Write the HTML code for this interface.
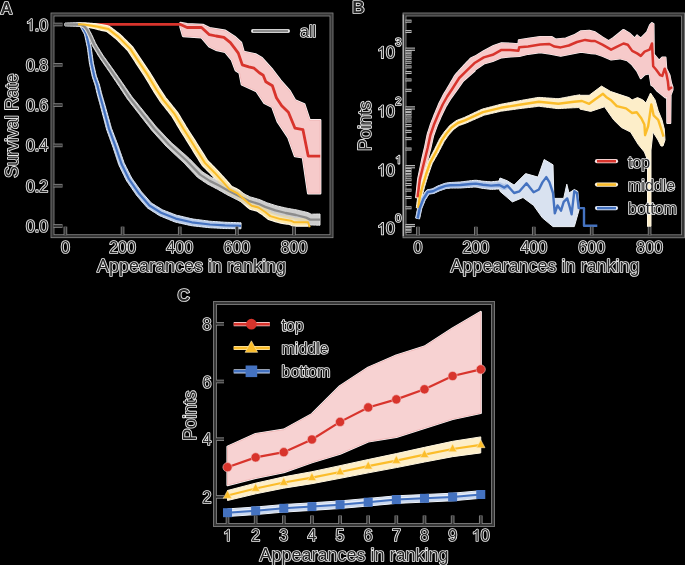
<!DOCTYPE html>
<html><head><meta charset="utf-8"><style>
html,body{margin:0;padding:0;background:#000;width:685px;height:565px;overflow:hidden}
svg{display:block}
</style></head><body>
<svg width="685" height="565" viewBox="0 0 685 565">
<rect width="685" height="565" fill="#000"/>
<polygon points="180.5,22.9 187.1,24.2 202.8,24.9 209.4,28.1 225.2,30.8 234.4,36.7 241,42.6 243.6,51.8 255.4,54.4 261.8,58 272.4,69.9 280.4,80.5 289.7,91.1 295,100.4 304.3,104.4 309.6,120.3 320.2,120.3 320.2,193.2 308.2,193.2 302.9,157.4 295,156.1 288.4,137.5 277.7,121.6 272.4,107 264.5,103 256.5,91.1 241.9,84.5 239.6,72.8 235.7,70.2 231.8,59.7 225.2,51.8 216,49.8 209.4,46.5 201.5,37.3 183.1,36 180.5,26.8" fill="#f6caca" stroke="#fdfafa" stroke-width="2.4" stroke-linejoin="round"/>
<polygon points="180.5,22.9 187.1,24.2 202.8,24.9 209.4,28.1 225.2,30.8 234.4,36.7 241,42.6 243.6,51.8 255.4,54.4 261.8,58 272.4,69.9 280.4,80.5 289.7,91.1 295,100.4 304.3,104.4 309.6,120.3 320.2,120.3 320.2,193.2 308.2,193.2 302.9,157.4 295,156.1 288.4,137.5 277.7,121.6 272.4,107 264.5,103 256.5,91.1 241.9,84.5 239.6,72.8 235.7,70.2 231.8,59.7 225.2,51.8 216,49.8 209.4,46.5 201.5,37.3 183.1,36 180.5,26.8" fill="#f6caca" stroke="#f0b4b4" stroke-width="0.9" stroke-linejoin="round"/>
<polyline points="65,24.4 180.5,24.4 187.1,27.5 201.5,27.5 209.4,34.7 216,36 223.9,37.3 230.4,42.6 234.4,47.8 238.3,53.1 242.3,64.9 248.8,66.9 254.1,68.2 259.3,72.8 263.2,75.2 265.8,81.8 272.4,85.8 276.4,97.7 281.7,105.7 288.4,112.3 295,128.2 302.9,129.6 308.2,156.1 320.2,156.1" fill="none" stroke="#d8342c" stroke-width="2.8" stroke-linejoin="round" stroke-linecap="butt"/>
<polygon points="65,25.7 66.51,25.75 68.01,25.79 69.52,25.84 71.03,25.88 72.54,25.93 74.04,25.97 75.55,26.02 77.06,26.06 78.57,26.11 79.77,26.12 80.13,26.24 80.52,27.16 81.24,28.49 81.95,29.81 82.67,31.14 83.39,32.47 84.08,33.75 84.62,34.86 84.88,36.12 85.19,37.6 85.51,39.07 85.83,40.54 86.14,42.02 86.46,43.49 86.78,44.96 87.09,46.42 87.36,47.82 87.55,49.26 87.75,50.75 87.95,52.25 88.14,53.74 88.34,55.24 88.54,56.73 88.74,58.22 88.94,59.72 89.14,61.21 89.34,62.75 89.61,64.31 89.94,65.83 90.25,67.3 90.57,68.77 90.89,70.25 91.2,71.72 91.52,73.19 91.84,74.67 92.17,76.21 92.61,77.77 93.11,79.25 93.59,80.68 94.06,82.11 94.54,83.54 95,84.92 95.39,86.27 95.71,87.68 96.05,89.15 96.39,90.62 96.73,92.09 97.08,93.58 97.46,95.08 97.86,96.56 98.26,98.01 98.66,99.47 99.06,100.92 99.46,102.37 99.86,103.83 100.25,105.28 100.65,106.73 101.04,108.17 101.42,109.62 101.8,111.08 102.18,112.54 102.56,114 102.94,115.46 103.32,116.92 103.71,118.38 104.09,119.83 104.47,121.29 104.85,122.75 105.23,124.21 105.61,125.67 105.99,127.13 106.39,128.63 106.86,130.18 107.39,131.66 107.9,133.08 108.41,134.5 108.92,135.92 109.43,137.34 109.94,138.76 110.45,140.17 110.97,141.59 111.48,143.01 111.99,144.43 112.5,145.85 112.99,147.23 113.45,148.63 113.92,150.06 114.39,151.49 114.87,152.92 115.34,154.35 115.81,155.79 116.28,157.22 116.75,158.65 117.22,160.08 117.7,161.51 118.17,162.94 118.69,164.48 119.36,166.04 120.05,167.45 120.71,168.81 121.37,170.16 122.03,171.52 122.69,172.87 123.35,174.23 124.01,175.59 124.67,176.94 125.33,178.3 126.03,179.73 126.87,181.23 127.8,182.58 128.66,183.82 129.51,185.07 130.37,186.31 131.22,187.55 132.08,188.79 132.93,190.03 133.79,191.27 134.64,192.51 135.5,193.76 136.41,195.07 137.44,196.39 138.46,197.58 139.44,198.73 140.43,199.87 141.41,201.01 142.39,202.16 143.37,203.3 144.35,204.45 145.34,205.59 146.4,206.83 147.81,208.19 149.36,209.2 150.63,210.01 151.9,210.82 153.17,211.63 154.44,212.44 155.71,213.25 156.98,214.06 158.28,214.89 159.83,215.82 161.46,216.49 162.85,217.06 164.25,217.63 165.64,218.21 167.04,218.78 168.43,219.35 169.83,219.92 171.22,220.49 172.62,221.07 174.19,221.7 175.88,222.19 177.42,222.57 178.89,222.92 180.36,223.25 181.83,223.58 183.3,223.9 184.78,224.23 186.25,224.56 187.72,224.88 189.19,225.21 190.8,225.56 192.46,225.8 194.01,225.97 195.51,226.14 197,226.31 198.5,226.48 200,226.65 201.5,226.82 203,226.99 204.49,227.15 205.99,227.32 207.49,227.49 209.05,227.67 210.65,227.79 212.19,227.87 213.7,227.95 215.2,228.03 216.71,228.11 218.21,228.18 219.72,228.26 221.22,228.34 222.73,228.42 224.27,228.5 225.83,228.55 227.36,228.57 228.87,228.6 230.37,228.62 231.88,228.65 233.39,228.67 234.9,228.7 236.4,228.72 237.91,228.75 239.42,228.77 240.93,228.8 241.07,222.8 239.57,222.75 238.06,222.7 236.55,222.65 235.05,222.6 233.54,222.55 232.03,222.5 230.53,222.45 229.02,222.4 227.51,222.35 226.03,222.3 224.58,222.23 223.11,222.13 221.6,222.03 220.1,221.93 218.6,221.82 217.09,221.72 215.59,221.62 214.08,221.52 212.58,221.41 211.12,221.31 209.71,221.18 208.28,221 206.78,220.8 205.28,220.61 203.79,220.42 202.29,220.22 200.8,220.03 199.3,219.84 197.81,219.64 196.31,219.45 194.82,219.26 193.37,219.07 192.06,218.87 190.72,218.55 189.26,218.2 187.79,217.85 186.32,217.5 184.86,217.15 183.39,216.8 181.92,216.45 180.46,216.11 178.98,215.78 177.59,215.48 176.38,215.17 175.15,214.69 173.74,214.15 172.34,213.61 170.93,213.07 169.52,212.53 168.12,211.99 166.71,211.44 165.3,210.9 163.89,210.36 162.72,209.92 161.68,209.31 160.42,208.55 159.14,207.76 157.85,206.97 156.56,206.19 155.28,205.4 153.99,204.62 152.7,203.83 151.69,203.24 150.96,202.52 150.04,201.49 149.04,200.36 148.05,199.23 147.05,198.1 146.05,196.97 145.05,195.84 144.05,194.71 143.05,193.58 142.09,192.51 141.25,191.46 140.43,190.31 139.56,189.08 138.69,187.85 137.82,186.62 136.95,185.39 136.07,184.16 135.2,182.93 134.33,181.7 133.46,180.47 132.59,179.24 131.79,178.12 131.15,177.01 130.52,175.74 129.84,174.39 129.17,173.04 128.49,171.69 127.82,170.34 127.15,168.99 126.47,167.65 125.8,166.3 125.12,164.95 124.48,163.66 123.95,162.46 123.5,161.14 123.01,159.71 122.52,158.29 122.02,156.86 121.52,155.44 121.03,154.02 120.53,152.59 120.03,151.17 119.53,149.75 119.04,148.33 118.54,146.9 118.03,145.44 117.48,144 116.94,142.59 116.4,141.18 115.86,139.77 115.32,138.37 114.78,136.96 114.25,135.55 113.71,134.14 113.17,132.73 112.63,131.33 112.09,129.92 111.57,128.57 111.15,127.25 110.76,125.84 110.36,124.39 109.95,122.94 109.55,121.48 109.15,120.03 108.74,118.58 108.34,117.13 107.94,115.67 107.54,114.22 107.13,112.77 106.73,111.32 106.33,109.86 105.92,108.41 105.52,106.95 105.1,105.49 104.68,104.03 104.26,102.59 103.84,101.14 103.42,99.69 103,98.24 102.57,96.8 102.15,95.35 101.74,93.92 101.36,92.51 101.01,91.07 100.65,89.6 100.29,88.14 99.93,86.68 99.55,85.16 99.09,83.62 98.57,82.15 98.06,80.73 97.56,79.31 97.06,77.89 96.57,76.51 96.16,75.18 95.84,73.78 95.51,72.31 95.17,70.84 94.84,69.37 94.51,67.9 94.17,66.43 93.84,64.96 93.51,63.53 93.25,62.13 93.05,60.68 92.84,59.19 92.63,57.69 92.42,56.2 92.21,54.71 92,53.21 91.79,51.72 91.58,50.23 91.37,48.74 91.15,47.19 90.83,45.63 90.5,44.14 90.16,42.67 89.83,41.2 89.49,39.73 89.16,38.26 88.82,36.79 88.49,35.32 88.09,33.64 87.3,32.06 86.53,30.71 85.77,29.41 85.02,28.1 84.27,26.8 83.51,25.49 82.44,23.78 80.38,22.88 78.57,22.89 77.06,22.94 75.55,22.98 74.04,23.03 72.54,23.07 71.03,23.12 69.52,23.16 68.01,23.21 66.51,23.25 65,23.3" fill="#b7cae9" stroke="#e6eef9" stroke-width="1" stroke-linejoin="round"/>
<polyline points="65,24.5 81,24.5 86.3,34 89.2,47.1 91.4,63.2 94.3,76.3 97.3,85 99.4,93.8 103.1,106.9 109,128.8 115.5,146.3 121.5,164 129,179.2 139.2,193.8 149.4,205.5 161.1,212.8 175.7,218.6 191.8,222.3 210,224.5 225,225.4 241,225.8" fill="none" stroke="#4472c0" stroke-width="2.2" stroke-linejoin="round" stroke-linecap="butt"/>
<polygon points="77.93,25.7 79.43,25.87 80.93,26.04 82.43,26.21 83.85,26.38 85.25,26.68 86.73,26.99 88.21,27.3 89.68,27.6 91.16,27.91 92.64,28.22 94.12,28.53 95.54,28.83 96.92,29.19 98.35,29.59 99.81,29.97 101.28,30.3 102.75,30.63 104.22,30.95 105.69,31.28 106.73,31.48 107.42,31.93 108.44,32.75 109.62,33.69 110.8,34.63 111.98,35.57 113.16,36.5 114.35,37.44 115.51,38.37 116.54,39.21 117.49,40.17 118.55,41.24 119.61,42.31 120.67,43.39 121.73,44.46 122.79,45.53 123.85,46.6 124.91,47.67 125.97,48.75 127,49.79 127.83,50.66 128.5,51.71 129.33,52.97 130.16,54.23 130.99,55.49 131.82,56.75 132.65,58.01 133.48,59.27 134.3,60.53 135.13,61.79 135.96,63.05 136.79,64.31 137.63,65.57 138.46,66.82 139.29,68.08 140.12,69.34 140.95,70.6 141.78,71.86 142.61,73.12 143.44,74.37 144.26,75.62 145.05,76.82 145.79,78.07 146.56,79.36 147.33,80.66 148.11,81.95 148.88,83.25 149.65,84.54 150.43,85.84 151.2,87.13 151.97,88.42 152.74,89.72 153.54,91.06 154.39,92.38 155.21,93.65 156.03,94.91 156.85,96.18 157.67,97.45 158.49,98.71 159.31,99.98 160.21,101.36 161.22,102.68 162.17,103.88 163.11,105.06 164.05,106.24 164.99,107.42 165.92,108.6 166.86,109.78 167.8,110.96 168.73,112.14 169.67,113.33 170.61,114.51 171.48,115.6 172.2,116.65 172.9,117.84 173.67,119.13 174.43,120.43 175.2,121.73 175.97,123.03 176.73,124.33 177.5,125.63 178.27,126.92 179.03,128.22 179.8,129.53 180.61,130.87 181.43,132.18 182.24,133.45 183.04,134.73 183.85,136 184.65,137.28 185.46,138.55 186.27,139.83 187.07,141.1 187.87,142.37 188.66,143.63 189.44,144.9 190.23,146.18 191.02,147.47 191.81,148.75 192.59,150.04 193.38,151.33 194.17,152.61 194.97,153.91 195.78,155.2 196.58,156.48 197.38,157.76 198.19,159.03 198.99,160.31 199.79,161.58 200.6,162.86 201.5,164.28 202.66,165.77 203.86,167 204.92,168.08 205.98,169.15 207.04,170.23 208.1,171.3 209.15,172.38 210.21,173.45 211.25,174.51 212.24,175.54 213.21,176.61 214.22,177.73 215.23,178.85 216.24,179.97 217.25,181.09 218.26,182.21 219.27,183.33 220.28,184.45 221.26,185.54 222.2,186.63 223.16,187.77 224.13,188.93 225.1,190.08 226.43,191.6 228.27,192.87 229.82,193.66 231.16,194.34 232.51,195.02 233.86,195.7 234.84,196.17 235.62,196.85 236.72,197.81 237.85,198.8 238.99,199.79 240.13,200.78 241.26,201.77 242.39,202.76 243.52,203.76 244.66,204.75 245.79,205.74 246.93,206.74 248.11,207.77 250.01,209.21 252.25,209.87 253.71,210.24 255.17,210.61 256.37,210.91 257.15,211.22 258.08,211.87 259.34,212.7 260.59,213.54 261.84,214.37 262.95,215.11 263.99,215.95 265.16,216.9 266.33,217.85 267.92,219.09 269.96,220.01 271.63,220.52 273.08,220.95 274.52,221.38 275.97,221.81 277.41,222.24 279.01,222.71 280.73,223.08 282.32,223.33 283.81,223.57 285.3,223.8 286.79,224.04 288.27,224.28 289.34,224.43 290.16,224.77 291.74,225.55 294.07,226.12 296.04,226.15 297.55,226.15 299.05,226.16 300.56,226.17 302.07,226.17 303.58,226.18 305.08,226.18 306.59,226.19 308.1,226.19 308.1,218.21 306.59,218.21 305.08,218.22 303.58,218.22 302.07,218.23 300.56,218.23 299.05,218.24 297.55,218.25 296.04,218.25 294.99,218.28 294.47,218.16 293.36,217.58 291.39,216.84 289.48,216.52 287.99,216.3 286.5,216.07 285.01,215.85 283.52,215.62 282.12,215.41 280.9,215.16 279.6,214.79 278.16,214.37 276.71,213.95 275.26,213.53 273.81,213.1 272.59,212.76 271.92,212.5 271.15,211.85 269.98,210.91 268.8,209.96 267.48,208.92 266.08,207.99 264.82,207.16 263.56,206.33 262.3,205.5 260.72,204.48 258.74,203.67 257.02,203.23 255.55,202.87 254.09,202.51 253.4,202.44 252.98,201.99 251.89,201.04 250.75,200.05 249.61,199.07 248.47,198.08 247.34,197.09 246.19,196.1 245.05,195.11 243.91,194.13 242.77,193.14 241.62,192.16 240.45,191.14 238.91,189.91 237.19,189.03 235.84,188.36 234.49,187.69 233.14,187.02 231.99,186.46 231.37,186.08 230.75,185.3 229.78,184.15 228.8,183 227.81,181.84 226.79,180.65 225.74,179.5 224.72,178.39 223.71,177.27 222.69,176.16 221.68,175.05 220.66,173.93 219.65,172.82 218.63,171.7 217.58,170.55 216.47,169.41 215.39,168.32 214.33,167.25 213.27,166.18 212.2,165.11 211.14,164.04 210.08,162.97 209.01,161.91 208.1,160.99 207.42,160.12 206.7,158.99 205.89,157.72 205.09,156.45 204.28,155.18 203.47,153.9 202.66,152.63 201.85,151.36 201.04,150.11 200.25,148.84 199.46,147.57 198.66,146.29 197.86,145.01 197.06,143.73 196.26,142.45 195.46,141.17 194.65,139.88 193.83,138.59 193.01,137.32 192.19,136.05 191.37,134.78 190.56,133.51 189.74,132.25 188.93,130.98 188.11,129.71 187.29,128.44 186.5,127.21 185.74,125.97 184.97,124.68 184.19,123.39 183.42,122.1 182.64,120.81 181.86,119.52 181.09,118.22 180.31,116.93 179.53,115.64 178.75,114.35 177.91,112.95 176.91,111.53 175.89,110.27 174.94,109.1 173.99,107.93 173.05,106.76 172.1,105.58 171.15,104.41 170.2,103.24 169.25,102.07 168.3,100.9 167.35,99.73 166.42,98.57 165.58,97.51 164.83,96.37 164,95.11 163.17,93.85 162.34,92.6 161.51,91.34 160.68,90.08 159.85,88.83 159.06,87.61 158.3,86.37 157.52,85.08 156.73,83.79 155.95,82.51 155.17,81.22 154.38,79.93 153.6,78.64 152.82,77.35 152.03,76.07 151.25,74.78 150.43,73.44 149.56,72.12 148.71,70.86 147.87,69.61 147.03,68.36 146.19,67.11 145.35,65.86 144.5,64.6 143.66,63.35 142.82,62.1 141.98,60.85 141.14,59.6 140.3,58.35 139.46,57.1 138.62,55.85 137.78,54.6 136.94,53.34 136.1,52.09 135.26,50.84 134.42,49.59 133.58,48.33 132.59,46.87 131.35,45.56 130.25,44.47 129.17,43.41 128.1,42.35 127.03,41.29 125.96,40.23 124.89,39.17 123.81,38.11 122.74,37.05 121.67,35.99 120.48,34.82 119.17,33.77 117.96,32.83 116.77,31.91 115.58,30.99 114.38,30.06 113.19,29.14 112,28.22 110.66,27.18 108.8,26.14 106.88,25.7 105.41,25.4 103.93,25.1 102.45,24.79 100.98,24.49 99.49,24.25 97.96,24.02 96.38,23.81 94.82,23.68 93.31,23.56 91.81,23.44 90.3,23.32 88.79,23.2 87.29,23.08 85.78,22.96 84.2,22.83 82.6,22.84 81.09,22.86 79.58,22.88 78.07,22.9" fill="#fde7a6" stroke="#fff8e8" stroke-width="1.2" stroke-linejoin="round"/>
<polygon points="65,25.8 66.51,25.84 68.02,25.89 69.53,25.93 71.05,25.98 72.56,26.02 74.07,26.07 75.58,26.11 77.09,26.16 78.6,26.2 79.8,26.22 80.79,26.67 82.07,27.33 83.15,27.85 83.87,28.66 84.73,29.76 85.52,30.81 86.11,32.02 86.79,33.37 87.46,34.72 88.14,36.07 88.78,37.38 89.36,38.72 89.96,40.11 90.55,41.5 91.15,42.88 91.76,44.3 92.47,45.78 93.29,47.17 94.06,48.47 94.83,49.77 95.61,51.06 96.38,52.36 97.15,53.66 97.92,54.96 98.71,56.29 99.56,57.62 100.44,58.9 101.29,60.14 102.15,61.39 103,62.64 103.86,63.88 104.71,65.13 105.57,66.38 106.42,67.62 107.28,68.87 108.13,70.12 108.99,71.36 109.83,72.6 110.67,73.85 111.52,75.1 112.36,76.36 113.21,77.61 114.05,78.87 114.9,80.12 115.74,81.37 116.59,82.63 117.43,83.88 118.27,85.13 119.1,86.37 119.93,87.63 120.76,88.9 121.59,90.16 122.42,91.42 123.25,92.69 124.08,93.95 124.91,95.21 125.74,96.48 126.57,97.75 127.47,99.08 128.45,100.35 129.38,101.54 130.3,102.74 131.23,103.93 132.16,105.13 133.08,106.32 134.01,107.52 134.94,108.71 135.86,109.91 136.79,111.1 137.72,112.3 138.64,113.49 139.57,114.68 140.5,115.88 141.43,117.08 142.36,118.27 143.29,119.46 144.22,120.65 145.15,121.84 146.08,123.04 147.01,124.23 147.94,125.42 148.86,126.61 149.79,127.81 150.72,129 151.69,130.25 152.76,131.48 153.8,132.63 154.81,133.75 155.83,134.87 156.85,135.98 157.86,137.1 158.88,138.22 159.9,139.34 160.91,140.46 161.93,141.58 162.95,142.7 163.96,143.82 164.98,144.94 166.04,146.1 167.19,147.27 168.35,148.35 169.45,149.38 170.56,150.41 171.66,151.44 172.77,152.47 173.87,153.5 174.98,154.53 176.09,155.56 177.19,156.59 178.3,157.63 179.4,158.66 180.51,159.69 181.61,160.72 182.72,161.75 183.76,162.72 184.74,163.73 185.75,164.81 186.79,165.91 187.83,167.01 188.86,168.11 189.9,169.21 190.94,170.31 191.97,171.41 193.01,172.51 194.05,173.61 195.08,174.71 196.12,175.81 197.39,177.14 198.94,178.29 200.26,179.18 201.52,180.02 202.77,180.86 204.03,181.7 205.29,182.54 206.57,183.4 208.02,184.33 209.52,185.12 210.87,185.81 212.21,186.51 213.55,187.21 214.89,187.9 216.23,188.6 217.5,189.26 218.74,189.96 220.05,190.71 221.36,191.45 222.68,192.2 223.99,192.95 225.3,193.69 226.67,194.47 228.09,195.22 229.48,195.93 230.83,196.61 232.17,197.29 233.52,197.97 234.87,198.66 236.22,199.34 237.56,200.02 238.9,200.7 240.25,201.39 241.59,202.08 242.94,202.77 244.28,203.46 245.68,204.17 247.38,204.97 249.12,205.52 250.57,205.97 252.01,206.41 253.46,206.86 254.9,207.31 256.22,207.71 257.34,208.14 258.56,208.72 259.92,209.37 261.29,210.02 262.75,210.72 264.35,211.38 265.87,211.94 267.29,212.46 268.71,212.97 270.13,213.49 271.55,214.01 273.04,214.55 274.66,215.08 276.24,215.51 277.7,215.91 279.16,216.31 280.62,216.7 282.08,217.1 283.58,217.51 285.17,217.91 286.74,218.25 288.21,218.57 289.69,218.89 291.17,219.21 292.65,219.53 294.06,219.84 295.39,220.16 296.77,220.55 298.23,220.95 299.69,221.35 301.14,221.75 302.6,222.15 303.8,222.48 304.69,222.84 305.79,223.41 307.67,224.33 310.3,224.98 312.44,225.05 313.95,225.08 315.47,225.11 316.98,225.14 318.49,225.17 320,225.2 320,214 318.49,214.03 316.98,214.06 315.47,214.09 313.95,214.12 312.44,214.15 311.56,214.22 311.32,214.19 310.49,213.77 308.87,213.02 306.94,212.34 305.21,211.93 303.74,211.58 302.26,211.24 300.79,210.89 299.32,210.55 297.77,210.18 296.15,209.85 294.6,209.58 293.11,209.31 291.62,209.05 290.13,208.79 288.64,208.53 287.24,208.28 285.89,208 284.46,207.67 282.99,207.33 281.51,206.99 280.04,206.64 278.57,206.3 277.21,205.99 275.95,205.63 274.58,205.19 273.14,204.73 271.7,204.26 270.26,203.8 268.82,203.34 267.49,202.91 266.28,202.46 264.99,201.9 263.6,201.3 262.22,200.7 260.68,200.02 258.98,199.41 257.4,198.95 255.95,198.53 254.49,198.11 253.04,197.69 251.59,197.27 250.44,196.95 249.41,196.47 248.1,195.83 246.74,195.17 245.38,194.5 244.02,193.84 242.66,193.18 241.3,192.51 239.93,191.85 238.57,191.19 237.21,190.53 235.85,189.87 234.49,189.21 233.13,188.55 231.8,187.92 230.55,187.27 229.27,186.58 227.94,185.85 226.61,185.13 225.29,184.4 223.96,183.68 222.62,182.95 221.21,182.2 219.78,181.51 218.42,180.85 217.05,180.2 215.69,179.54 214.33,178.88 212.97,178.23 211.77,177.66 210.66,176.99 209.41,176.2 208.13,175.39 206.85,174.59 205.57,173.78 204.29,172.98 203.08,172.22 202.17,171.61 201.35,170.76 200.29,169.69 199.23,168.61 198.16,167.54 197.1,166.46 196.04,165.39 194.98,164.31 193.92,163.24 192.85,162.16 191.79,161.09 190.73,160.01 189.65,158.91 188.49,157.78 187.29,156.72 186.16,155.71 185.03,154.71 183.9,153.71 182.77,152.71 181.64,151.7 180.51,150.7 179.37,149.7 178.24,148.7 177.11,147.69 175.98,146.69 174.85,145.69 173.72,144.69 172.59,143.68 171.5,142.73 170.51,141.77 169.51,140.72 168.47,139.62 167.43,138.53 166.38,137.43 165.34,136.34 164.3,135.25 163.26,134.15 162.22,133.06 161.17,131.96 160.13,130.87 159.09,129.77 158.05,128.68 157.03,127.61 156.09,126.57 155.18,125.46 154.23,124.28 153.28,123.11 152.32,121.93 151.37,120.76 150.42,119.59 149.47,118.41 148.52,117.24 147.57,116.06 146.62,114.89 145.67,113.71 144.72,112.54 143.77,111.36 142.82,110.19 141.87,109.01 140.93,107.83 139.98,106.65 139.03,105.48 138.08,104.3 137.13,103.12 136.19,101.94 135.24,100.77 134.29,99.59 133.34,98.41 132.39,97.24 131.5,96.13 130.7,94.97 129.85,93.73 129,92.48 128.15,91.23 127.3,89.98 126.45,88.73 125.6,87.48 124.74,86.23 123.89,84.98 123.04,83.73 122.18,82.47 121.31,81.22 120.44,79.98 119.57,78.74 118.71,77.5 117.84,76.26 116.98,75.02 116.11,73.79 115.25,72.55 114.38,71.31 113.51,70.06 112.64,68.82 111.76,67.58 110.88,66.35 110.01,65.12 109.13,63.89 108.25,62.66 107.38,61.42 106.5,60.19 105.63,58.96 104.75,57.73 103.87,56.5 103.02,55.3 102.23,54.09 101.45,52.83 100.66,51.54 99.86,50.25 99.07,48.97 98.28,47.68 97.49,46.39 96.69,45.11 95.95,43.9 95.35,42.66 94.75,41.31 94.13,39.93 93.52,38.55 92.9,37.17 92.27,35.74 91.55,34.34 90.86,33 90.17,31.65 89.47,30.31 88.7,28.82 87.67,27.47 86.64,26.21 85.3,24.88 83.66,24.07 82.22,23.4 80.43,22.78 78.6,22.8 77.09,22.84 75.58,22.89 74.07,22.93 72.56,22.98 71.05,23.02 69.53,23.07 68.02,23.11 66.51,23.16 65,23.2" fill="#cdcdcd" stroke="#e4e4e4" stroke-width="1" stroke-linejoin="round"/>
<clipPath id="gclip"><polygon points="65,25.8 66.51,25.84 68.02,25.89 69.53,25.93 71.05,25.98 72.56,26.02 74.07,26.07 75.58,26.11 77.09,26.16 78.6,26.2 79.8,26.22 80.79,26.67 82.07,27.33 83.15,27.85 83.87,28.66 84.73,29.76 85.52,30.81 86.11,32.02 86.79,33.37 87.46,34.72 88.14,36.07 88.78,37.38 89.36,38.72 89.96,40.11 90.55,41.5 91.15,42.88 91.76,44.3 92.47,45.78 93.29,47.17 94.06,48.47 94.83,49.77 95.61,51.06 96.38,52.36 97.15,53.66 97.92,54.96 98.71,56.29 99.56,57.62 100.44,58.9 101.29,60.14 102.15,61.39 103,62.64 103.86,63.88 104.71,65.13 105.57,66.38 106.42,67.62 107.28,68.87 108.13,70.12 108.99,71.36 109.83,72.6 110.67,73.85 111.52,75.1 112.36,76.36 113.21,77.61 114.05,78.87 114.9,80.12 115.74,81.37 116.59,82.63 117.43,83.88 118.27,85.13 119.1,86.37 119.93,87.63 120.76,88.9 121.59,90.16 122.42,91.42 123.25,92.69 124.08,93.95 124.91,95.21 125.74,96.48 126.57,97.75 127.47,99.08 128.45,100.35 129.38,101.54 130.3,102.74 131.23,103.93 132.16,105.13 133.08,106.32 134.01,107.52 134.94,108.71 135.86,109.91 136.79,111.1 137.72,112.3 138.64,113.49 139.57,114.68 140.5,115.88 141.43,117.08 142.36,118.27 143.29,119.46 144.22,120.65 145.15,121.84 146.08,123.04 147.01,124.23 147.94,125.42 148.86,126.61 149.79,127.81 150.72,129 151.69,130.25 152.76,131.48 153.8,132.63 154.81,133.75 155.83,134.87 156.85,135.98 157.86,137.1 158.88,138.22 159.9,139.34 160.91,140.46 161.93,141.58 162.95,142.7 163.96,143.82 164.98,144.94 166.04,146.1 167.19,147.27 168.35,148.35 169.45,149.38 170.56,150.41 171.66,151.44 172.77,152.47 173.87,153.5 174.98,154.53 176.09,155.56 177.19,156.59 178.3,157.63 179.4,158.66 180.51,159.69 181.61,160.72 182.72,161.75 183.76,162.72 184.74,163.73 185.75,164.81 186.79,165.91 187.83,167.01 188.86,168.11 189.9,169.21 190.94,170.31 191.97,171.41 193.01,172.51 194.05,173.61 195.08,174.71 196.12,175.81 197.39,177.14 198.94,178.29 200.26,179.18 201.52,180.02 202.77,180.86 204.03,181.7 205.29,182.54 206.57,183.4 208.02,184.33 209.52,185.12 210.87,185.81 212.21,186.51 213.55,187.21 214.89,187.9 216.23,188.6 217.5,189.26 218.74,189.96 220.05,190.71 221.36,191.45 222.68,192.2 223.99,192.95 225.3,193.69 226.67,194.47 228.09,195.22 229.48,195.93 230.83,196.61 232.17,197.29 233.52,197.97 234.87,198.66 236.22,199.34 237.56,200.02 238.9,200.7 240.25,201.39 241.59,202.08 242.94,202.77 244.28,203.46 245.68,204.17 247.38,204.97 249.12,205.52 250.57,205.97 252.01,206.41 253.46,206.86 254.9,207.31 256.22,207.71 257.34,208.14 258.56,208.72 259.92,209.37 261.29,210.02 262.75,210.72 264.35,211.38 265.87,211.94 267.29,212.46 268.71,212.97 270.13,213.49 271.55,214.01 273.04,214.55 274.66,215.08 276.24,215.51 277.7,215.91 279.16,216.31 280.62,216.7 282.08,217.1 283.58,217.51 285.17,217.91 286.74,218.25 288.21,218.57 289.69,218.89 291.17,219.21 292.65,219.53 294.06,219.84 295.39,220.16 296.77,220.55 298.23,220.95 299.69,221.35 301.14,221.75 302.6,222.15 303.8,222.48 304.69,222.84 305.79,223.41 307.67,224.33 310.3,224.98 312.44,225.05 313.95,225.08 315.47,225.11 316.98,225.14 318.49,225.17 320,225.2 320,214 318.49,214.03 316.98,214.06 315.47,214.09 313.95,214.12 312.44,214.15 311.56,214.22 311.32,214.19 310.49,213.77 308.87,213.02 306.94,212.34 305.21,211.93 303.74,211.58 302.26,211.24 300.79,210.89 299.32,210.55 297.77,210.18 296.15,209.85 294.6,209.58 293.11,209.31 291.62,209.05 290.13,208.79 288.64,208.53 287.24,208.28 285.89,208 284.46,207.67 282.99,207.33 281.51,206.99 280.04,206.64 278.57,206.3 277.21,205.99 275.95,205.63 274.58,205.19 273.14,204.73 271.7,204.26 270.26,203.8 268.82,203.34 267.49,202.91 266.28,202.46 264.99,201.9 263.6,201.3 262.22,200.7 260.68,200.02 258.98,199.41 257.4,198.95 255.95,198.53 254.49,198.11 253.04,197.69 251.59,197.27 250.44,196.95 249.41,196.47 248.1,195.83 246.74,195.17 245.38,194.5 244.02,193.84 242.66,193.18 241.3,192.51 239.93,191.85 238.57,191.19 237.21,190.53 235.85,189.87 234.49,189.21 233.13,188.55 231.8,187.92 230.55,187.27 229.27,186.58 227.94,185.85 226.61,185.13 225.29,184.4 223.96,183.68 222.62,182.95 221.21,182.2 219.78,181.51 218.42,180.85 217.05,180.2 215.69,179.54 214.33,178.88 212.97,178.23 211.77,177.66 210.66,176.99 209.41,176.2 208.13,175.39 206.85,174.59 205.57,173.78 204.29,172.98 203.08,172.22 202.17,171.61 201.35,170.76 200.29,169.69 199.23,168.61 198.16,167.54 197.1,166.46 196.04,165.39 194.98,164.31 193.92,163.24 192.85,162.16 191.79,161.09 190.73,160.01 189.65,158.91 188.49,157.78 187.29,156.72 186.16,155.71 185.03,154.71 183.9,153.71 182.77,152.71 181.64,151.7 180.51,150.7 179.37,149.7 178.24,148.7 177.11,147.69 175.98,146.69 174.85,145.69 173.72,144.69 172.59,143.68 171.5,142.73 170.51,141.77 169.51,140.72 168.47,139.62 167.43,138.53 166.38,137.43 165.34,136.34 164.3,135.25 163.26,134.15 162.22,133.06 161.17,131.96 160.13,130.87 159.09,129.77 158.05,128.68 157.03,127.61 156.09,126.57 155.18,125.46 154.23,124.28 153.28,123.11 152.32,121.93 151.37,120.76 150.42,119.59 149.47,118.41 148.52,117.24 147.57,116.06 146.62,114.89 145.67,113.71 144.72,112.54 143.77,111.36 142.82,110.19 141.87,109.01 140.93,107.83 139.98,106.65 139.03,105.48 138.08,104.3 137.13,103.12 136.19,101.94 135.24,100.77 134.29,99.59 133.34,98.41 132.39,97.24 131.5,96.13 130.7,94.97 129.85,93.73 129,92.48 128.15,91.23 127.3,89.98 126.45,88.73 125.6,87.48 124.74,86.23 123.89,84.98 123.04,83.73 122.18,82.47 121.31,81.22 120.44,79.98 119.57,78.74 118.71,77.5 117.84,76.26 116.98,75.02 116.11,73.79 115.25,72.55 114.38,71.31 113.51,70.06 112.64,68.82 111.76,67.58 110.88,66.35 110.01,65.12 109.13,63.89 108.25,62.66 107.38,61.42 106.5,60.19 105.63,58.96 104.75,57.73 103.87,56.5 103.02,55.3 102.23,54.09 101.45,52.83 100.66,51.54 99.86,50.25 99.07,48.97 98.28,47.68 97.49,46.39 96.69,45.11 95.95,43.9 95.35,42.66 94.75,41.31 94.13,39.93 93.52,38.55 92.9,37.17 92.27,35.74 91.55,34.34 90.86,33 90.17,31.65 89.47,30.31 88.7,28.82 87.67,27.47 86.64,26.21 85.3,24.88 83.66,24.07 82.22,23.4 80.43,22.78 78.6,22.8 77.09,22.84 75.58,22.89 74.07,22.93 72.56,22.98 71.05,23.02 69.53,23.07 68.02,23.11 66.51,23.16 65,23.2"/></clipPath>
<polygon points="77.93,25.7 79.43,25.87 80.93,26.04 82.43,26.21 83.85,26.38 85.25,26.68 86.73,26.99 88.21,27.3 89.68,27.6 91.16,27.91 92.64,28.22 94.12,28.53 95.54,28.83 96.92,29.19 98.35,29.59 99.81,29.97 101.28,30.3 102.75,30.63 104.22,30.95 105.69,31.28 106.73,31.48 107.42,31.93 108.44,32.75 109.62,33.69 110.8,34.63 111.98,35.57 113.16,36.5 114.35,37.44 115.51,38.37 116.54,39.21 117.49,40.17 118.55,41.24 119.61,42.31 120.67,43.39 121.73,44.46 122.79,45.53 123.85,46.6 124.91,47.67 125.97,48.75 127,49.79 127.83,50.66 128.5,51.71 129.33,52.97 130.16,54.23 130.99,55.49 131.82,56.75 132.65,58.01 133.48,59.27 134.3,60.53 135.13,61.79 135.96,63.05 136.79,64.31 137.63,65.57 138.46,66.82 139.29,68.08 140.12,69.34 140.95,70.6 141.78,71.86 142.61,73.12 143.44,74.37 144.26,75.62 145.05,76.82 145.79,78.07 146.56,79.36 147.33,80.66 148.11,81.95 148.88,83.25 149.65,84.54 150.43,85.84 151.2,87.13 151.97,88.42 152.74,89.72 153.54,91.06 154.39,92.38 155.21,93.65 156.03,94.91 156.85,96.18 157.67,97.45 158.49,98.71 159.31,99.98 160.21,101.36 161.22,102.68 162.17,103.88 163.11,105.06 164.05,106.24 164.99,107.42 165.92,108.6 166.86,109.78 167.8,110.96 168.73,112.14 169.67,113.33 170.61,114.51 171.48,115.6 172.2,116.65 172.9,117.84 173.67,119.13 174.43,120.43 175.2,121.73 175.97,123.03 176.73,124.33 177.5,125.63 178.27,126.92 179.03,128.22 179.8,129.53 180.61,130.87 181.43,132.18 182.24,133.45 183.04,134.73 183.85,136 184.65,137.28 185.46,138.55 186.27,139.83 187.07,141.1 187.87,142.37 188.66,143.63 189.44,144.9 190.23,146.18 191.02,147.47 191.81,148.75 192.59,150.04 193.38,151.33 194.17,152.61 194.97,153.91 195.78,155.2 196.58,156.48 197.38,157.76 198.19,159.03 198.99,160.31 199.79,161.58 200.6,162.86 201.5,164.28 202.66,165.77 203.86,167 204.92,168.08 205.98,169.15 207.04,170.23 208.1,171.3 209.15,172.38 210.21,173.45 211.25,174.51 212.24,175.54 213.21,176.61 214.22,177.73 215.23,178.85 216.24,179.97 217.25,181.09 218.26,182.21 219.27,183.33 220.28,184.45 221.26,185.54 222.2,186.63 223.16,187.77 224.13,188.93 225.1,190.08 226.43,191.6 228.27,192.87 229.82,193.66 231.16,194.34 232.51,195.02 233.86,195.7 234.84,196.17 235.62,196.85 236.72,197.81 237.85,198.8 238.99,199.79 240.13,200.78 241.26,201.77 242.39,202.76 243.52,203.76 244.66,204.75 245.79,205.74 246.93,206.74 248.11,207.77 250.01,209.21 252.25,209.87 253.71,210.24 255.17,210.61 256.37,210.91 257.15,211.22 258.08,211.87 259.34,212.7 260.59,213.54 261.84,214.37 262.95,215.11 263.99,215.95 265.16,216.9 266.33,217.85 267.92,219.09 269.96,220.01 271.63,220.52 273.08,220.95 274.52,221.38 275.97,221.81 277.41,222.24 279.01,222.71 280.73,223.08 282.32,223.33 283.81,223.57 285.3,223.8 286.79,224.04 288.27,224.28 289.34,224.43 290.16,224.77 291.74,225.55 294.07,226.12 296.04,226.15 297.55,226.15 299.05,226.16 300.56,226.17 302.07,226.17 303.58,226.18 305.08,226.18 306.59,226.19 308.1,226.19 308.1,218.21 306.59,218.21 305.08,218.22 303.58,218.22 302.07,218.23 300.56,218.23 299.05,218.24 297.55,218.25 296.04,218.25 294.99,218.28 294.47,218.16 293.36,217.58 291.39,216.84 289.48,216.52 287.99,216.3 286.5,216.07 285.01,215.85 283.52,215.62 282.12,215.41 280.9,215.16 279.6,214.79 278.16,214.37 276.71,213.95 275.26,213.53 273.81,213.1 272.59,212.76 271.92,212.5 271.15,211.85 269.98,210.91 268.8,209.96 267.48,208.92 266.08,207.99 264.82,207.16 263.56,206.33 262.3,205.5 260.72,204.48 258.74,203.67 257.02,203.23 255.55,202.87 254.09,202.51 253.4,202.44 252.98,201.99 251.89,201.04 250.75,200.05 249.61,199.07 248.47,198.08 247.34,197.09 246.19,196.1 245.05,195.11 243.91,194.13 242.77,193.14 241.62,192.16 240.45,191.14 238.91,189.91 237.19,189.03 235.84,188.36 234.49,187.69 233.14,187.02 231.99,186.46 231.37,186.08 230.75,185.3 229.78,184.15 228.8,183 227.81,181.84 226.79,180.65 225.74,179.5 224.72,178.39 223.71,177.27 222.69,176.16 221.68,175.05 220.66,173.93 219.65,172.82 218.63,171.7 217.58,170.55 216.47,169.41 215.39,168.32 214.33,167.25 213.27,166.18 212.2,165.11 211.14,164.04 210.08,162.97 209.01,161.91 208.1,160.99 207.42,160.12 206.7,158.99 205.89,157.72 205.09,156.45 204.28,155.18 203.47,153.9 202.66,152.63 201.85,151.36 201.04,150.11 200.25,148.84 199.46,147.57 198.66,146.29 197.86,145.01 197.06,143.73 196.26,142.45 195.46,141.17 194.65,139.88 193.83,138.59 193.01,137.32 192.19,136.05 191.37,134.78 190.56,133.51 189.74,132.25 188.93,130.98 188.11,129.71 187.29,128.44 186.5,127.21 185.74,125.97 184.97,124.68 184.19,123.39 183.42,122.1 182.64,120.81 181.86,119.52 181.09,118.22 180.31,116.93 179.53,115.64 178.75,114.35 177.91,112.95 176.91,111.53 175.89,110.27 174.94,109.1 173.99,107.93 173.05,106.76 172.1,105.58 171.15,104.41 170.2,103.24 169.25,102.07 168.3,100.9 167.35,99.73 166.42,98.57 165.58,97.51 164.83,96.37 164,95.11 163.17,93.85 162.34,92.6 161.51,91.34 160.68,90.08 159.85,88.83 159.06,87.61 158.3,86.37 157.52,85.08 156.73,83.79 155.95,82.51 155.17,81.22 154.38,79.93 153.6,78.64 152.82,77.35 152.03,76.07 151.25,74.78 150.43,73.44 149.56,72.12 148.71,70.86 147.87,69.61 147.03,68.36 146.19,67.11 145.35,65.86 144.5,64.6 143.66,63.35 142.82,62.1 141.98,60.85 141.14,59.6 140.3,58.35 139.46,57.1 138.62,55.85 137.78,54.6 136.94,53.34 136.1,52.09 135.26,50.84 134.42,49.59 133.58,48.33 132.59,46.87 131.35,45.56 130.25,44.47 129.17,43.41 128.1,42.35 127.03,41.29 125.96,40.23 124.89,39.17 123.81,38.11 122.74,37.05 121.67,35.99 120.48,34.82 119.17,33.77 117.96,32.83 116.77,31.91 115.58,30.99 114.38,30.06 113.19,29.14 112,28.22 110.66,27.18 108.8,26.14 106.88,25.7 105.41,25.4 103.93,25.1 102.45,24.79 100.98,24.49 99.49,24.25 97.96,24.02 96.38,23.81 94.82,23.68 93.31,23.56 91.81,23.44 90.3,23.32 88.79,23.2 87.29,23.08 85.78,22.96 84.2,22.83 82.6,22.84 81.09,22.86 79.58,22.88 78.07,22.9" fill="#e8d8a8" opacity="0.8" clip-path="url(#gclip)"/>
<polyline points="65,24.5 80.4,24.5 84.5,26.5 87,29.6 90.5,36.5 94,44.5 100.9,55.9 111.1,70.5 120.5,84.2 129.4,97.5 142.6,114.2 154.2,128.8 168.8,144.5 186.4,160.5 200,174.6 209.7,180.9 219.5,185.8 229.2,191.2 238.9,196 248.7,200.9 258.4,203.8 265.2,206.9 275.4,210.4 285.7,213 295.9,215 306.1,217.6 310.2,219.6 320,219.6" fill="none" stroke="#8c8c8c" stroke-width="2.3" stroke-linejoin="round" stroke-linecap="butt"/>
<polyline points="78,24.3 84,24.6 96.5,26.4 108.2,28.9 118.4,36.9 130.1,48.6 138.8,61.7 147.6,74.9 156.4,89.5 163,99.6 174.7,114.2 183.4,128.8 191.5,141.5 198,152 204.9,162.9 214.6,172.7 224.3,183.4 229.2,189.2 237,193.1 243.8,199 251.6,205.8 258.4,207.5 265.2,212 270.3,216.1 280.5,219.1 290.8,220.7 293.8,222.2 308.1,222.2 309.7,227.3" fill="none" stroke="#fbbd2a" stroke-width="2" stroke-linejoin="round" stroke-linecap="butt"/>
<rect x="52.5" y="14.5" width="279" height="221.7" fill="none" stroke="#8c8c8c" stroke-width="3.8"/>
<rect x="52.5" y="14.5" width="279" height="221.7" fill="none" stroke="#363636" stroke-width="2.3"/>
<line x1="53.5" y1="226" x2="62.5" y2="226" stroke="#8c8c8c" stroke-width="3.6" stroke-linecap="butt"/>
<line x1="53.5" y1="226" x2="62.5" y2="226" stroke="#363636" stroke-width="2"/>
<line x1="53.5" y1="185.7" x2="62.5" y2="185.7" stroke="#8c8c8c" stroke-width="3.6" stroke-linecap="butt"/>
<line x1="53.5" y1="185.7" x2="62.5" y2="185.7" stroke="#363636" stroke-width="2"/>
<line x1="53.5" y1="145.4" x2="62.5" y2="145.4" stroke="#8c8c8c" stroke-width="3.6" stroke-linecap="butt"/>
<line x1="53.5" y1="145.4" x2="62.5" y2="145.4" stroke="#363636" stroke-width="2"/>
<line x1="53.5" y1="105.1" x2="62.5" y2="105.1" stroke="#8c8c8c" stroke-width="3.6" stroke-linecap="butt"/>
<line x1="53.5" y1="105.1" x2="62.5" y2="105.1" stroke="#363636" stroke-width="2"/>
<line x1="53.5" y1="64.8" x2="62.5" y2="64.8" stroke="#8c8c8c" stroke-width="3.6" stroke-linecap="butt"/>
<line x1="53.5" y1="64.8" x2="62.5" y2="64.8" stroke="#363636" stroke-width="2"/>
<line x1="53.5" y1="24.5" x2="62.5" y2="24.5" stroke="#8c8c8c" stroke-width="3.6" stroke-linecap="butt"/>
<line x1="53.5" y1="24.5" x2="62.5" y2="24.5" stroke="#363636" stroke-width="2"/>
<line x1="65.4" y1="235.2" x2="65.4" y2="226.7" stroke="#8c8c8c" stroke-width="3.6" stroke-linecap="butt"/>
<line x1="65.4" y1="235.2" x2="65.4" y2="226.7" stroke="#363636" stroke-width="2"/>
<line x1="122.56" y1="235.2" x2="122.56" y2="226.7" stroke="#8c8c8c" stroke-width="3.6" stroke-linecap="butt"/>
<line x1="122.56" y1="235.2" x2="122.56" y2="226.7" stroke="#363636" stroke-width="2"/>
<line x1="179.72" y1="235.2" x2="179.72" y2="226.7" stroke="#8c8c8c" stroke-width="3.6" stroke-linecap="butt"/>
<line x1="179.72" y1="235.2" x2="179.72" y2="226.7" stroke="#363636" stroke-width="2"/>
<line x1="236.88" y1="235.2" x2="236.88" y2="226.7" stroke="#8c8c8c" stroke-width="3.6" stroke-linecap="butt"/>
<line x1="236.88" y1="235.2" x2="236.88" y2="226.7" stroke="#363636" stroke-width="2"/>
<line x1="294.04" y1="235.2" x2="294.04" y2="226.7" stroke="#8c8c8c" stroke-width="3.6" stroke-linecap="butt"/>
<line x1="294.04" y1="235.2" x2="294.04" y2="226.7" stroke="#363636" stroke-width="2"/>
<line x1="253" y1="31" x2="288" y2="31" stroke="#e6e6e6" stroke-width="4" stroke-linecap="round"/>
<line x1="253" y1="31" x2="288" y2="31" stroke="#8c8c8c" stroke-width="2.4"/>
<polygon points="416.11,197.22 416.3,195.7 416.49,194.18 416.65,192.66 416.81,191.14 416.97,189.61 417.12,188.09 417.28,186.57 417.44,185.05 417.6,183.53 417.76,182.01 417.92,180.45 418.14,178.83 418.47,177.26 418.78,175.76 419.09,174.26 419.41,172.76 419.72,171.26 420.03,169.76 420.34,168.27 420.65,166.77 420.97,165.27 421.28,163.77 421.59,162.27 421.9,160.77 422.21,159.28 422.53,157.78 422.88,156.29 423.23,154.8 423.58,153.31 423.93,151.82 424.28,150.33 424.63,148.84 424.97,147.39 425.28,145.93 425.58,144.44 425.88,142.94 426.19,141.44 426.49,139.95 426.79,138.45 427.1,136.95 427.41,135.4 427.81,133.74 428.32,132.17 428.8,130.72 429.27,129.27 429.75,127.81 430.22,126.36 430.7,124.88 431.23,123.34 431.82,121.85 432.38,120.43 432.94,119.01 433.5,117.58 434.07,116.16 434.63,114.74 435.2,113.28 435.82,111.82 436.43,110.4 437.03,109 437.62,107.58 438.21,106.17 438.8,104.76 439.43,103.24 440.18,101.73 440.9,100.34 441.6,98.98 442.3,97.62 442.99,96.25 443.75,94.8 444.6,93.36 445.4,92.02 446.19,90.71 446.98,89.4 447.77,88.09 448.55,86.79 449.31,85.5 450.07,84.19 450.84,82.87 451.61,81.55 452.38,80.22 453.15,78.9 453.92,77.58 454.8,76.09 456,74.41 457.26,73.03 458.29,71.9 459.32,70.77 460.35,69.63 461.38,68.5 462.41,67.36 463.48,66.19 464.57,65.04 465.62,63.92 466.67,62.81 467.72,61.69 468.77,60.58 469.82,59.46 470.87,58.35 475,56.5 483.8,51.2 493.6,45.9 501.5,43.3 512.2,43.7 518.4,44.2 518.8,40.2 528.1,38.8 540.2,36.9 551.5,36.9 555.5,39.4 565.8,38.4 574,35.3 581.1,31.2 589.3,30.7 595,32.3 602.4,37.3 608.6,41 613.6,37.9 623.5,29.9 629.7,33.6 634.7,38.5 637.1,35.4 640.8,38.5 647,32.3 650.1,24.9 652,23.1 653.5,24 653.8,54.4 659.1,60.7 662.3,57.5 665.5,57.5 666.3,68.7 669.5,75.1 671.1,83.1 672.5,87 672.5,90 670.6,95 670.3,122.9 667.3,122.9 667.1,96 665.5,97.4 661.5,94.2 657.5,91 653.6,86.3 651.4,85 649.5,73.2 644.6,74.5 640.8,78.2 637.1,70.8 632.2,64.6 627.2,60.2 619.8,58.4 611.1,59.6 602.4,55.9 595,53.4 591.3,53.2 581.1,51.7 570.9,53.7 560.7,55.8 550.4,53.7 540.2,52.2 528.1,53.9 519.2,56.1 510.4,56.5 501.5,57.4 492.7,61 483.8,63.6 475,69.8 474.45,71.02 473.29,72.01 472.12,73 470.99,73.95 469.88,74.93 468.73,75.94 467.58,76.96 466.44,77.97 465.29,78.99 464.14,80 463.22,80.78 462.57,81.52 461.81,82.61 460.93,83.86 460.06,85.12 459.18,86.38 458.3,87.63 457.43,88.89 456.54,90.16 455.63,91.43 454.72,92.69 453.82,93.93 452.93,95.17 452.03,96.41 451.14,97.62 450.34,98.76 449.59,99.97 448.79,101.27 447.99,102.58 447.19,103.88 446.41,105.16 445.7,106.34 445.08,107.61 444.4,108.98 443.73,110.35 443.05,111.73 442.39,113.11 441.74,114.48 441.11,115.81 440.51,117.18 439.9,118.58 439.29,119.99 438.68,121.39 438.07,122.79 437.45,124.19 436.87,125.53 436.36,126.87 435.85,128.29 435.33,129.73 434.81,131.17 434.29,132.61 433.77,134.05 433.29,135.37 432.95,136.68 432.63,138.12 432.29,139.62 431.96,141.11 431.63,142.6 431.3,144.1 430.96,145.59 430.63,147.09 430.28,148.63 429.88,150.14 429.5,151.62 429.12,153.1 428.73,154.58 428.35,156.06 427.96,157.55 427.58,159.03 427.16,160.5 426.74,161.97 426.32,163.44 425.89,164.91 425.47,166.39 425.05,167.86 424.62,169.33 424.2,170.8 423.77,172.27 423.35,173.74 422.92,175.21 422.5,176.68 422.07,178.15 421.66,179.55 421.41,180.94 421.2,182.43 420.98,183.94 420.76,185.46 420.54,186.97 420.33,188.49 420.11,190 419.89,191.52 419.68,193.03 419.46,194.55 419.28,196.07 419.09,197.58" fill="#f6caca" stroke="#fdfafa" stroke-width="2" stroke-linejoin="round"/>
<polygon points="416.11,197.22 416.3,195.7 416.49,194.18 416.65,192.66 416.81,191.14 416.97,189.61 417.12,188.09 417.28,186.57 417.44,185.05 417.6,183.53 417.76,182.01 417.92,180.45 418.14,178.83 418.47,177.26 418.78,175.76 419.09,174.26 419.41,172.76 419.72,171.26 420.03,169.76 420.34,168.27 420.65,166.77 420.97,165.27 421.28,163.77 421.59,162.27 421.9,160.77 422.21,159.28 422.53,157.78 422.88,156.29 423.23,154.8 423.58,153.31 423.93,151.82 424.28,150.33 424.63,148.84 424.97,147.39 425.28,145.93 425.58,144.44 425.88,142.94 426.19,141.44 426.49,139.95 426.79,138.45 427.1,136.95 427.41,135.4 427.81,133.74 428.32,132.17 428.8,130.72 429.27,129.27 429.75,127.81 430.22,126.36 430.7,124.88 431.23,123.34 431.82,121.85 432.38,120.43 432.94,119.01 433.5,117.58 434.07,116.16 434.63,114.74 435.2,113.28 435.82,111.82 436.43,110.4 437.03,109 437.62,107.58 438.21,106.17 438.8,104.76 439.43,103.24 440.18,101.73 440.9,100.34 441.6,98.98 442.3,97.62 442.99,96.25 443.75,94.8 444.6,93.36 445.4,92.02 446.19,90.71 446.98,89.4 447.77,88.09 448.55,86.79 449.31,85.5 450.07,84.19 450.84,82.87 451.61,81.55 452.38,80.22 453.15,78.9 453.92,77.58 454.8,76.09 456,74.41 457.26,73.03 458.29,71.9 459.32,70.77 460.35,69.63 461.38,68.5 462.41,67.36 463.48,66.19 464.57,65.04 465.62,63.92 466.67,62.81 467.72,61.69 468.77,60.58 469.82,59.46 470.87,58.35 475,56.5 483.8,51.2 493.6,45.9 501.5,43.3 512.2,43.7 518.4,44.2 518.8,40.2 528.1,38.8 540.2,36.9 551.5,36.9 555.5,39.4 565.8,38.4 574,35.3 581.1,31.2 589.3,30.7 595,32.3 602.4,37.3 608.6,41 613.6,37.9 623.5,29.9 629.7,33.6 634.7,38.5 637.1,35.4 640.8,38.5 647,32.3 650.1,24.9 652,23.1 653.5,24 653.8,54.4 659.1,60.7 662.3,57.5 665.5,57.5 666.3,68.7 669.5,75.1 671.1,83.1 672.5,87 672.5,90 670.6,95 670.3,122.9 667.3,122.9 667.1,96 665.5,97.4 661.5,94.2 657.5,91 653.6,86.3 651.4,85 649.5,73.2 644.6,74.5 640.8,78.2 637.1,70.8 632.2,64.6 627.2,60.2 619.8,58.4 611.1,59.6 602.4,55.9 595,53.4 591.3,53.2 581.1,51.7 570.9,53.7 560.7,55.8 550.4,53.7 540.2,52.2 528.1,53.9 519.2,56.1 510.4,56.5 501.5,57.4 492.7,61 483.8,63.6 475,69.8 474.45,71.02 473.29,72.01 472.12,73 470.99,73.95 469.88,74.93 468.73,75.94 467.58,76.96 466.44,77.97 465.29,78.99 464.14,80 463.22,80.78 462.57,81.52 461.81,82.61 460.93,83.86 460.06,85.12 459.18,86.38 458.3,87.63 457.43,88.89 456.54,90.16 455.63,91.43 454.72,92.69 453.82,93.93 452.93,95.17 452.03,96.41 451.14,97.62 450.34,98.76 449.59,99.97 448.79,101.27 447.99,102.58 447.19,103.88 446.41,105.16 445.7,106.34 445.08,107.61 444.4,108.98 443.73,110.35 443.05,111.73 442.39,113.11 441.74,114.48 441.11,115.81 440.51,117.18 439.9,118.58 439.29,119.99 438.68,121.39 438.07,122.79 437.45,124.19 436.87,125.53 436.36,126.87 435.85,128.29 435.33,129.73 434.81,131.17 434.29,132.61 433.77,134.05 433.29,135.37 432.95,136.68 432.63,138.12 432.29,139.62 431.96,141.11 431.63,142.6 431.3,144.1 430.96,145.59 430.63,147.09 430.28,148.63 429.88,150.14 429.5,151.62 429.12,153.1 428.73,154.58 428.35,156.06 427.96,157.55 427.58,159.03 427.16,160.5 426.74,161.97 426.32,163.44 425.89,164.91 425.47,166.39 425.05,167.86 424.62,169.33 424.2,170.8 423.77,172.27 423.35,173.74 422.92,175.21 422.5,176.68 422.07,178.15 421.66,179.55 421.41,180.94 421.2,182.43 420.98,183.94 420.76,185.46 420.54,186.97 420.33,188.49 420.11,190 419.89,191.52 419.68,193.03 419.46,194.55 419.28,196.07 419.09,197.58" fill="#f6caca" stroke="#f2bcbc" stroke-width="0.8" stroke-linejoin="round"/>
<polygon points="416.31,207.75 416.49,206.25 416.67,204.74 416.87,203.22 417.09,201.71 417.3,200.21 417.52,198.72 417.74,197.18 418.04,195.59 418.42,194.06 418.78,192.59 419.15,191.13 419.52,189.66 419.88,188.19 420.25,186.73 420.62,185.23 421.04,183.74 421.47,182.27 421.89,180.82 422.31,179.37 422.74,177.92 423.16,176.47 423.59,175.02 424.02,173.53 424.5,172.05 424.98,170.61 425.46,169.18 425.93,167.75 426.41,166.31 426.89,164.88 427.36,163.44 427.91,161.84 428.68,160.32 429.4,158.96 430.11,157.63 430.82,156.29 431.53,154.96 432.24,153.62 432.94,152.29 433.65,150.97 434.32,149.66 434.97,148.33 435.64,146.97 436.3,145.61 436.96,144.25 437.63,142.9 438.3,141.54 438.97,140.19 439.73,138.68 440.68,137.28 441.53,136.02 442.38,134.77 443.23,133.53 444.14,132.19 445.16,130.91 446.15,129.72 447.12,128.56 448.09,127.4 449.18,126.11 450.53,124.87 451.86,123.88 453.07,122.98 454.29,122.08 455.65,121.07 457.31,120.16 458.91,119.54 460.32,119 461.73,118.46 463.13,117.92 464.43,117.41 465.72,116.81 467.08,116.16 468.45,115.52 469.82,114.88 471.19,114.24 472.56,113.6 473.93,112.95 475.29,112.31 476.66,111.67 478.03,111.03 479.4,110.38 480.85,109.7 482.53,109.05 484.18,108.61 485.64,108.23 487.1,107.84 488.56,107.46 490.03,107.08 491.49,106.69 492.95,106.31 494.41,105.93 495.87,105.54 497.34,105.16 498.83,104.77 500.43,104.37 502.02,104.07 503.5,103.78 504.99,103.5 506.47,103.21 507.96,102.93 509.44,102.64 510.93,102.36 512.41,102.07 513.9,101.79 515.38,101.5 516.87,101.22 518.37,100.93 519.89,100.65 521.39,100.39 522.88,100.12 524.36,99.86 525.85,99.6 527.34,99.34 528.83,99.07 530.32,98.81 531.81,98.55 533.3,98.28 534.79,98.02 536.28,97.76 538.13,97.46 540.18,97.44 541.86,97.56 543.37,97.67 544.88,97.78 546.39,97.88 547.89,97.99 549.4,98.1 550.91,98.2 552.42,98.31 553.93,98.42 555.44,98.52 556.94,98.63 558.07,98.71 559.02,98.6 560.36,98.36 561.85,98.07 563.34,97.79 564.83,97.5 566.31,97.22 567.8,96.94 569.29,96.65 570.78,96.37 572.29,96.08 573.84,95.8 575.38,95.54 576.87,95.29 578.37,95.04 579.86,94.78 580,95.3 589.2,95.3 601.5,86.1 610.7,91.5 619.9,94.6 629,97.6 632.1,99.9 637.5,97.6 642.8,99.9 645.9,103 650.5,93 655.1,99.9 658.2,110.7 662,120 664.3,129 665,140 663,146 661,146 658,140 653,132 651,150 651,226.5 647.5,226.5 647.5,160 644.4,152 638.2,144.4 630.6,132.1 621.4,127.5 613.7,119.9 604.5,106.8 590.7,111.4 580,109.1 579.62,107.56 578.1,107.61 576.59,107.66 575.12,107.71 573.67,107.77 572.18,107.85 570.66,107.93 569.15,108.01 567.64,108.09 566.13,108.17 564.61,108.25 563.1,108.33 561.59,108.42 559.92,108.53 557.88,108.6 555.99,108.39 554.49,108.21 552.99,108.02 551.49,107.84 549.99,107.65 548.49,107.46 546.99,107.28 545.49,107.09 543.99,106.9 542.49,106.72 540.99,106.53 539.66,106.36 538.71,106.29 537.57,106.43 536.07,106.62 534.57,106.8 533.07,106.98 531.57,107.17 530.07,107.35 528.57,107.54 527.07,107.72 525.57,107.9 524.07,108.09 522.56,108.27 521.07,108.45 519.6,108.64 518.12,108.85 516.63,109.05 515.13,109.26 513.63,109.47 512.13,109.67 510.64,109.88 509.14,110.09 507.64,110.29 506.14,110.5 504.64,110.71 503.15,110.91 501.75,111.1 500.4,111.37 498.96,111.71 497.49,112.06 496.02,112.4 494.55,112.75 493.08,113.09 491.61,113.44 490.14,113.78 488.66,114.13 487.19,114.47 485.72,114.82 484.44,115.11 483.3,115.54 482,116.11 480.62,116.72 479.23,117.32 477.85,117.93 476.47,118.54 475.08,119.15 473.7,119.76 472.32,120.37 470.93,120.98 469.55,121.59 468.16,122.19 466.69,122.84 465.17,123.4 463.74,123.91 462.31,124.41 460.89,124.92 459.65,125.34 458.67,125.86 457.59,126.63 456.36,127.5 455.12,128.38 454.01,129.16 453.13,129.94 452.26,130.95 451.27,132.09 450.28,133.23 449.32,134.35 448.44,135.41 447.63,136.57 446.76,137.8 445.89,139.04 445.02,140.27 444.25,141.36 443.65,142.55 442.96,143.89 442.27,145.24 441.57,146.58 440.87,147.92 440.18,149.26 439.48,150.6 438.77,151.97 438.02,153.33 437.27,154.66 436.53,155.98 435.78,157.29 435.04,158.61 434.29,159.92 433.55,161.24 432.81,162.53 432.18,163.68 431.75,164.94 431.24,166.37 430.74,167.79 430.24,169.22 429.74,170.64 429.24,172.07 428.74,173.49 428.26,174.88 427.82,176.29 427.37,177.73 426.93,179.18 426.48,180.62 426.03,182.07 425.58,183.51 425.14,184.94 424.73,186.35 424.35,187.78 423.96,189.24 423.58,190.7 423.19,192.17 422.81,193.63 422.42,195.09 422.05,196.49 421.78,197.86 421.56,199.32 421.33,200.81 421.1,202.31 420.88,203.78 420.68,205.26 420.49,206.75 420.29,208.25" fill="#fdeec9" stroke="#fff6e2" stroke-width="1" stroke-linejoin="round"/>
<polygon points="415.64,218.09 415.96,216.58 416.27,215.07 416.58,213.56 416.89,212.05 417.19,210.55 417.5,209.03 417.86,207.36 418.47,205.76 419.02,204.32 419.57,202.89 420.12,201.45 420.68,200.01 421.29,198.42 422.13,196.92 422.95,195.57 423.74,194.25 424.54,192.93 425.55,191.32 427.45,189.84 429.5,189.42 431.02,189.15 432.2,188.96 433.23,188.41 434.57,187.71 435.94,186.99 437.43,186.21 438.99,185.6 440.42,185.04 441.86,184.48 443.32,183.9 445.05,183.29 446.84,183.01 448.36,182.78 450.02,182.54 451.69,182.45 453.23,182.37 454.77,182.29 456.31,182.2 457.85,182.12 459.35,182.04 460.78,181.92 462.25,181.74 463.78,181.56 465.31,181.37 466.84,181.18 468.37,180.99 469.92,180.81 471.48,180.64 473.02,180.48 474.7,180.31 476.65,180.3 478.44,180.55 479.97,180.77 481.49,180.99 482.93,181.2 484.34,181.32 485.84,181.43 487.37,181.54 488.91,181.66 490.34,181.76 491.55,181.77 492.88,181.63 494.41,181.48 495.94,181.33 497.48,181.18 499.01,181.03 500,178 507.1,180.7 514.1,185.1 525.6,173.6 538,177.1 544.2,159.5 553,164.8 553.9,198.4 563.7,198.4 566.8,184.2 569,193 574.3,189.5 577.8,191.3 579,205 579,210 577.8,214.3 574.3,226.6 553,226.6 542.4,217.8 533.6,205.4 523,197.5 512.4,201.9 500,191.3 499.59,188.97 498.05,189.05 496.51,189.12 494.97,189.19 493.43,189.27 491.68,189.35 489.83,189.24 488.19,189.05 486.66,188.86 485.13,188.67 483.56,188.48 481.91,188.24 480.32,187.94 478.8,187.64 477.29,187.35 476.04,187.09 474.93,187.05 473.54,187.12 472.01,187.2 470.5,187.29 468.99,187.4 467.45,187.51 465.91,187.62 464.38,187.73 462.84,187.84 461.24,187.96 459.6,188.01 458.02,188.02 456.48,188.03 454.94,188.04 453.4,188.05 451.86,188.06 450.45,188.06 449.05,188.2 447.52,188.36 446.25,188.47 445.07,188.85 443.64,189.34 442.18,189.84 440.72,190.33 439.39,190.78 438.13,191.38 436.74,192.04 435.32,192.71 433.57,193.47 431.71,193.74 430.18,193.93 429.19,193.98 428.89,194.24 428.28,195.25 427.45,196.55 426.62,197.85 425.81,199.12 425.12,200.27 424.6,201.55 424.03,202.98 423.45,204.41 422.87,205.84 422.3,207.27 421.78,208.54 421.49,209.88 421.16,211.38 420.84,212.88 420.52,214.39 420.19,215.9 419.87,217.4 419.56,218.91" fill="#d9e2f0" stroke="#eef2f8" stroke-width="1" stroke-linejoin="round"/>
<polygon points="419.75,218.95 420.07,217.46 420.38,215.97 420.7,214.49 421.02,213 421.34,211.51 421.66,210.03 421.94,208.71 422.44,207.48 423.01,206.08 423.58,204.67 424.15,203.26 424.72,201.84 425.23,200.56 425.87,199.43 426.66,198.2 427.48,196.92 428.3,195.64 429.02,194.5 429.15,194.13 429.84,194.22 431.35,194.03 433.12,193.79 434.93,193.17 436.44,192.47 437.81,191.82 439.1,191.22 440.38,190.74 441.76,190.25 443.19,189.73 444.62,189.22 445.84,188.77 447.02,188.55 448.44,188.37 449.87,188.2 451.24,188.11 452.71,188.07 454.23,188.03 455.75,187.99 457.27,187.95 458.79,187.91 460.4,187.87 462.01,187.73 463.54,187.59 465.05,187.44 466.57,187.3 468.08,187.16 469.59,187.02 471.08,186.88 472.57,186.77 474.09,186.66 475.35,186.55 476.5,186.68 477.9,186.92 479.4,187.18 480.9,187.44 482.5,187.71 484.11,187.88 485.63,188.03 487.14,188.19 488.65,188.34 490.31,188.5 492.08,188.51 493.71,188.4 495.22,188.29 496.74,188.18 498.13,188.08 498.8,188.03 499.52,188.48 500.88,189.17 502.79,190.08 505.82,190.1 507.87,188.83 509.12,187.96 505.68,183.04 504.43,183.91 503.99,184.39 504.4,184.3 503.6,183.83 502.25,183.14 500.26,182.21 497.96,182.1 496.31,182.22 494.79,182.34 493.27,182.45 491.86,182.57 490.6,182.57 489.23,182.44 487.71,182.3 486.2,182.15 484.69,182.01 483.27,181.88 481.87,181.65 480.37,181.4 478.87,181.15 477.27,180.89 475.41,180.72 473.64,180.85 472.12,180.97 470.58,181.1 469.04,181.25 467.52,181.4 466.01,181.55 464.49,181.71 462.98,181.86 461.48,182.01 460.06,182.14 458.62,182.19 457.1,182.24 455.58,182.29 454.06,182.34 452.54,182.39 450.97,182.44 449.31,182.56 447.72,182.77 446.12,182.98 444.33,183.34 442.69,183.93 441.26,184.46 439.84,184.99 438.37,185.55 436.83,186.22 435.39,186.98 434.05,187.69 432.84,188.34 431.83,188.77 430.59,188.98 429.09,189.25 426.77,189.8 425.05,191.65 424.17,193.09 423.39,194.39 422.61,195.7 421.79,197.06 420.99,198.59 420.39,200.14 419.85,201.56 419.31,202.99 418.76,204.41 418.22,205.84 417.63,207.44 417.28,209.11 416.98,210.6 416.67,212.09 416.37,213.58 416.06,215.07 415.76,216.56 415.45,218.05" fill="#b6c9e9"/>
<polyline points="417.6,197.4 419.8,179.6 423.3,165.5 427.7,147.7 430.4,135 433.9,124.8 438.3,114.2 442.7,104.5 447.2,96.5 452.5,88.5 459.2,78 467.2,70.1 475,62.7 483.8,57.4 492.7,54.8 501.5,49.9 510.4,49.9 518.4,50.8 519.2,47.3 528.1,46.4 540.2,44.5 549.4,44 554.5,46.6 560.7,47.4 568.8,45.5 577,42 585.2,39.9 591.3,40.9 595,41 602.4,44.7 611.1,49.7 616.1,47.2 623.5,43.5 627.8,44.7 632.2,50.9 637.1,53.4 640.8,55.9 644.6,51.6 649.5,49.7 652,43.5 653.2,66.3 656,69.5 660,75.1 662.3,75.9 664.7,68.7 666.3,73.5 667.9,81.5 668.7,89.4 671.1,87.8 672,87" fill="none" stroke="#d8342c" stroke-width="2.5" stroke-linejoin="round" stroke-linecap="butt"/>
<polyline points="418.3,208 418.8,204 419.9,196.6 422.8,185.3 426.2,174 430.1,162.6 436.3,151.3 442,140 446.5,133.5 451.6,127.5 457.8,123 465.4,120.2 483,112.2 500.7,107.8 519.5,104.7 538.9,101.8 558.4,103.7 574,101.8 582,101 589.2,103.8 595.3,99.2 603,93.8 606.1,96.9 610.7,99.9 616.8,106.1 626,108.4 632.1,113 636.7,112.2 641.3,118.3 644.4,124.5 645.1,135.2 648.2,126 651.3,104.5 653.6,115.3 658.2,119.9 661.2,129 663.5,136.7" fill="none" stroke="#fbbd2a" stroke-width="2.4" stroke-linejoin="round" stroke-linecap="butt"/>
<polyline points="417.6,218.5 419.8,208 423.3,199.1 427.7,192 433,191.2 438.4,188.5 445.5,185.9 450.2,185.3 460.4,185 470.7,184 475.8,183.6 482.9,184.8 491.1,185.6 499.3,185 504.4,187.6 507.4,185.5 514.1,193 519.5,191.3 526.5,183.3 533.6,192.2 538.9,189.5 542.4,182.4 546.3,177.1 549.5,182.4 553,193 554.8,213.4 557.5,205.4 561,210.7 563.7,201.9 567.2,198.4 569.8,207.2 571.6,214.3 574.3,191.3 576.9,193 578.7,208.1 584,208.1 584,225.8 597.3,225.8" fill="none" stroke="#4472c0" stroke-width="2.4" stroke-linejoin="round" stroke-linecap="butt"/>
<rect x="404.5" y="14.5" width="278.5" height="221.8" fill="none" stroke="#8c8c8c" stroke-width="3.8"/>
<rect x="404.5" y="14.5" width="278.5" height="221.8" fill="none" stroke="#363636" stroke-width="2.3"/>
<line x1="403.3" y1="14.5" x2="403.3" y2="236.3" stroke="#b8b8b8" stroke-width="1.2"/>
<line x1="405.5" y1="225.5" x2="415" y2="225.5" stroke="#dedede" stroke-width="3.1" stroke-linecap="butt"/>
<line x1="405.5" y1="225.5" x2="415" y2="225.5" stroke="#363636" stroke-width="1.5"/>
<line x1="405.5" y1="166.73" x2="415" y2="166.73" stroke="#dedede" stroke-width="3.1" stroke-linecap="butt"/>
<line x1="405.5" y1="166.73" x2="415" y2="166.73" stroke="#363636" stroke-width="1.5"/>
<line x1="405.5" y1="107.96" x2="415" y2="107.96" stroke="#dedede" stroke-width="3.1" stroke-linecap="butt"/>
<line x1="405.5" y1="107.96" x2="415" y2="107.96" stroke="#363636" stroke-width="1.5"/>
<line x1="405.5" y1="49.19" x2="415" y2="49.19" stroke="#dedede" stroke-width="3.1" stroke-linecap="butt"/>
<line x1="405.5" y1="49.19" x2="415" y2="49.19" stroke="#363636" stroke-width="1.5"/>
<line x1="405.5" y1="231.2" x2="411.5" y2="231.2" stroke="#dedede" stroke-width="2.9" stroke-linecap="butt"/>
<line x1="405.5" y1="231.2" x2="411.5" y2="231.2" stroke="#363636" stroke-width="1.3"/>
<line x1="405.5" y1="228.19" x2="411.5" y2="228.19" stroke="#dedede" stroke-width="2.9" stroke-linecap="butt"/>
<line x1="405.5" y1="228.19" x2="411.5" y2="228.19" stroke="#363636" stroke-width="1.3"/>
<line x1="405.5" y1="207.81" x2="411.5" y2="207.81" stroke="#dedede" stroke-width="2.9" stroke-linecap="butt"/>
<line x1="405.5" y1="207.81" x2="411.5" y2="207.81" stroke="#363636" stroke-width="1.3"/>
<line x1="405.5" y1="197.46" x2="411.5" y2="197.46" stroke="#dedede" stroke-width="2.9" stroke-linecap="butt"/>
<line x1="405.5" y1="197.46" x2="411.5" y2="197.46" stroke="#363636" stroke-width="1.3"/>
<line x1="405.5" y1="190.12" x2="411.5" y2="190.12" stroke="#dedede" stroke-width="2.9" stroke-linecap="butt"/>
<line x1="405.5" y1="190.12" x2="411.5" y2="190.12" stroke="#363636" stroke-width="1.3"/>
<line x1="405.5" y1="184.42" x2="411.5" y2="184.42" stroke="#dedede" stroke-width="2.9" stroke-linecap="butt"/>
<line x1="405.5" y1="184.42" x2="411.5" y2="184.42" stroke="#363636" stroke-width="1.3"/>
<line x1="405.5" y1="179.77" x2="411.5" y2="179.77" stroke="#dedede" stroke-width="2.9" stroke-linecap="butt"/>
<line x1="405.5" y1="179.77" x2="411.5" y2="179.77" stroke="#363636" stroke-width="1.3"/>
<line x1="405.5" y1="175.83" x2="411.5" y2="175.83" stroke="#dedede" stroke-width="2.9" stroke-linecap="butt"/>
<line x1="405.5" y1="175.83" x2="411.5" y2="175.83" stroke="#363636" stroke-width="1.3"/>
<line x1="405.5" y1="172.43" x2="411.5" y2="172.43" stroke="#dedede" stroke-width="2.9" stroke-linecap="butt"/>
<line x1="405.5" y1="172.43" x2="411.5" y2="172.43" stroke="#363636" stroke-width="1.3"/>
<line x1="405.5" y1="169.42" x2="411.5" y2="169.42" stroke="#dedede" stroke-width="2.9" stroke-linecap="butt"/>
<line x1="405.5" y1="169.42" x2="411.5" y2="169.42" stroke="#363636" stroke-width="1.3"/>
<line x1="405.5" y1="149.04" x2="411.5" y2="149.04" stroke="#dedede" stroke-width="2.9" stroke-linecap="butt"/>
<line x1="405.5" y1="149.04" x2="411.5" y2="149.04" stroke="#363636" stroke-width="1.3"/>
<line x1="405.5" y1="138.69" x2="411.5" y2="138.69" stroke="#dedede" stroke-width="2.9" stroke-linecap="butt"/>
<line x1="405.5" y1="138.69" x2="411.5" y2="138.69" stroke="#363636" stroke-width="1.3"/>
<line x1="405.5" y1="131.35" x2="411.5" y2="131.35" stroke="#dedede" stroke-width="2.9" stroke-linecap="butt"/>
<line x1="405.5" y1="131.35" x2="411.5" y2="131.35" stroke="#363636" stroke-width="1.3"/>
<line x1="405.5" y1="125.65" x2="411.5" y2="125.65" stroke="#dedede" stroke-width="2.9" stroke-linecap="butt"/>
<line x1="405.5" y1="125.65" x2="411.5" y2="125.65" stroke="#363636" stroke-width="1.3"/>
<line x1="405.5" y1="121" x2="411.5" y2="121" stroke="#dedede" stroke-width="2.9" stroke-linecap="butt"/>
<line x1="405.5" y1="121" x2="411.5" y2="121" stroke="#363636" stroke-width="1.3"/>
<line x1="405.5" y1="117.06" x2="411.5" y2="117.06" stroke="#dedede" stroke-width="2.9" stroke-linecap="butt"/>
<line x1="405.5" y1="117.06" x2="411.5" y2="117.06" stroke="#363636" stroke-width="1.3"/>
<line x1="405.5" y1="113.66" x2="411.5" y2="113.66" stroke="#dedede" stroke-width="2.9" stroke-linecap="butt"/>
<line x1="405.5" y1="113.66" x2="411.5" y2="113.66" stroke="#363636" stroke-width="1.3"/>
<line x1="405.5" y1="110.65" x2="411.5" y2="110.65" stroke="#dedede" stroke-width="2.9" stroke-linecap="butt"/>
<line x1="405.5" y1="110.65" x2="411.5" y2="110.65" stroke="#363636" stroke-width="1.3"/>
<line x1="405.5" y1="90.27" x2="411.5" y2="90.27" stroke="#dedede" stroke-width="2.9" stroke-linecap="butt"/>
<line x1="405.5" y1="90.27" x2="411.5" y2="90.27" stroke="#363636" stroke-width="1.3"/>
<line x1="405.5" y1="79.92" x2="411.5" y2="79.92" stroke="#dedede" stroke-width="2.9" stroke-linecap="butt"/>
<line x1="405.5" y1="79.92" x2="411.5" y2="79.92" stroke="#363636" stroke-width="1.3"/>
<line x1="405.5" y1="72.58" x2="411.5" y2="72.58" stroke="#dedede" stroke-width="2.9" stroke-linecap="butt"/>
<line x1="405.5" y1="72.58" x2="411.5" y2="72.58" stroke="#363636" stroke-width="1.3"/>
<line x1="405.5" y1="66.88" x2="411.5" y2="66.88" stroke="#dedede" stroke-width="2.9" stroke-linecap="butt"/>
<line x1="405.5" y1="66.88" x2="411.5" y2="66.88" stroke="#363636" stroke-width="1.3"/>
<line x1="405.5" y1="62.23" x2="411.5" y2="62.23" stroke="#dedede" stroke-width="2.9" stroke-linecap="butt"/>
<line x1="405.5" y1="62.23" x2="411.5" y2="62.23" stroke="#363636" stroke-width="1.3"/>
<line x1="405.5" y1="58.29" x2="411.5" y2="58.29" stroke="#dedede" stroke-width="2.9" stroke-linecap="butt"/>
<line x1="405.5" y1="58.29" x2="411.5" y2="58.29" stroke="#363636" stroke-width="1.3"/>
<line x1="405.5" y1="54.89" x2="411.5" y2="54.89" stroke="#dedede" stroke-width="2.9" stroke-linecap="butt"/>
<line x1="405.5" y1="54.89" x2="411.5" y2="54.89" stroke="#363636" stroke-width="1.3"/>
<line x1="405.5" y1="51.88" x2="411.5" y2="51.88" stroke="#dedede" stroke-width="2.9" stroke-linecap="butt"/>
<line x1="405.5" y1="51.88" x2="411.5" y2="51.88" stroke="#363636" stroke-width="1.3"/>
<line x1="405.5" y1="31.5" x2="411.5" y2="31.5" stroke="#dedede" stroke-width="2.9" stroke-linecap="butt"/>
<line x1="405.5" y1="31.5" x2="411.5" y2="31.5" stroke="#363636" stroke-width="1.3"/>
<line x1="405.5" y1="21.15" x2="411.5" y2="21.15" stroke="#dedede" stroke-width="2.9" stroke-linecap="butt"/>
<line x1="405.5" y1="21.15" x2="411.5" y2="21.15" stroke="#363636" stroke-width="1.3"/>
<line x1="417.9" y1="235.3" x2="417.9" y2="226.8" stroke="#8c8c8c" stroke-width="3.6" stroke-linecap="butt"/>
<line x1="417.9" y1="235.3" x2="417.9" y2="226.8" stroke="#363636" stroke-width="2"/>
<line x1="475.83" y1="235.3" x2="475.83" y2="226.8" stroke="#8c8c8c" stroke-width="3.6" stroke-linecap="butt"/>
<line x1="475.83" y1="235.3" x2="475.83" y2="226.8" stroke="#363636" stroke-width="2"/>
<line x1="533.75" y1="235.3" x2="533.75" y2="226.8" stroke="#8c8c8c" stroke-width="3.6" stroke-linecap="butt"/>
<line x1="533.75" y1="235.3" x2="533.75" y2="226.8" stroke="#363636" stroke-width="2"/>
<line x1="591.68" y1="235.3" x2="591.68" y2="226.8" stroke="#8c8c8c" stroke-width="3.6" stroke-linecap="butt"/>
<line x1="591.68" y1="235.3" x2="591.68" y2="226.8" stroke="#363636" stroke-width="2"/>
<line x1="649.6" y1="235.3" x2="649.6" y2="226.8" stroke="#8c8c8c" stroke-width="3.6" stroke-linecap="butt"/>
<line x1="649.6" y1="235.3" x2="649.6" y2="226.8" stroke="#363636" stroke-width="2"/>
<line x1="597" y1="161.2" x2="616" y2="161.2" stroke="#f8e0e0" stroke-width="4.2" stroke-linecap="round"/>
<line x1="597" y1="161.2" x2="616" y2="161.2" stroke="#d8342c" stroke-width="2.6"/>
<line x1="597" y1="184.6" x2="616" y2="184.6" stroke="#fef2d8" stroke-width="4.2" stroke-linecap="round"/>
<line x1="597" y1="184.6" x2="616" y2="184.6" stroke="#fbbd2a" stroke-width="2.6"/>
<line x1="597" y1="208.1" x2="616" y2="208.1" stroke="#e0e8f6" stroke-width="4.2" stroke-linecap="round"/>
<line x1="597" y1="208.1" x2="616" y2="208.1" stroke="#4472c0" stroke-width="2.6"/>
<polygon points="227.5,446.7 255.64,434.01 283.78,429.68 311.92,414.1 340.06,386.12 368.2,367.65 396.34,355.53 424.48,346.59 452.62,328.42 480.76,311.97 480.76,412.95 452.62,419 424.48,427.95 396.34,436.89 368.2,441.51 340.06,453.62 311.92,462.28 283.78,472.09 255.64,477.86 227.5,485.07" fill="#f7d2d2" stroke="#fdfafa" stroke-width="2.2" stroke-linejoin="round"/>
<polygon points="227.5,446.7 255.64,434.01 283.78,429.68 311.92,414.1 340.06,386.12 368.2,367.65 396.34,355.53 424.48,346.59 452.62,328.42 480.76,311.97 480.76,412.95 452.62,419 424.48,427.95 396.34,436.89 368.2,441.51 340.06,453.62 311.92,462.28 283.78,472.09 255.64,477.86 227.5,485.07" fill="#f7d2d2" stroke="#f1b9b9" stroke-width="1" stroke-linejoin="round"/>
<polygon points="227.5,490.5 255.64,483.17 283.78,476.83 311.92,471.7 340.06,465.67 368.2,459.53 396.34,453.6 424.48,447.37 452.62,441.33 480.76,436.9 480.76,452.9 452.62,456.67 424.48,462.03 396.34,467.6 368.2,472.87 340.06,478.33 311.92,483.7 283.78,488.17 255.64,493.83 227.5,500.5" fill="#fdeec8" stroke="#fff6e0" stroke-width="1" stroke-linejoin="round"/>
<polygon points="227.5,508.9 255.64,507 283.78,504.5 311.92,502.8 340.06,500.9 368.2,498.4 396.34,495.8 424.48,494.5 452.62,493.2 480.76,490.7 480.76,498.3 452.62,500.8 424.48,502.1 396.34,503.4 368.2,506 340.06,508.5 311.92,510.4 283.78,512.1 255.64,514.6 227.5,516.5" fill="#c9d7ee" stroke="#eef3fb" stroke-width="1" stroke-linejoin="round"/>
<polyline points="227.5,510.9 255.64,509 283.78,506.5 311.92,504.8 340.06,502.9 368.2,500.4 396.34,497.8 424.48,496.5 452.62,495.2 480.76,492.7" fill="none" stroke="#e8eef8" stroke-width="1.2" stroke-linejoin="round" stroke-linecap="butt"/>
<polyline points="227.5,467.18 255.64,457.38 283.78,452.18 311.92,439.49 340.06,421.89 368.2,407.46 396.34,399.39 424.48,389.29 452.62,376.02 480.76,369.38" fill="none" stroke="#d8342c" stroke-width="2.2" stroke-linejoin="round" stroke-linecap="butt"/>
<polyline points="227.5,495.5 255.64,488.5 283.78,482.5 311.92,477.7 340.06,472 368.2,466.2 396.34,460.6 424.48,454.7 452.62,449 480.76,444.9" fill="none" stroke="#fbbd2a" stroke-width="2.2" stroke-linejoin="round" stroke-linecap="butt"/>
<polyline points="227.5,512.7 255.64,510.8 283.78,508.3 311.92,506.6 340.06,504.7 368.2,502.2 396.34,499.6 424.48,498.3 452.62,497 480.76,494.5" fill="none" stroke="#4472c0" stroke-width="2" stroke-linejoin="round" stroke-linecap="butt"/>
<rect x="215" y="303" width="278" height="222" fill="none" stroke="#8c8c8c" stroke-width="3.8"/>
<rect x="215" y="303" width="278" height="222" fill="none" stroke="#363636" stroke-width="2.3"/>
<line x1="216" y1="496.9" x2="224" y2="496.9" stroke="#8c8c8c" stroke-width="3.6" stroke-linecap="butt"/>
<line x1="216" y1="496.9" x2="224" y2="496.9" stroke="#363636" stroke-width="2"/>
<line x1="216" y1="439.2" x2="224" y2="439.2" stroke="#8c8c8c" stroke-width="3.6" stroke-linecap="butt"/>
<line x1="216" y1="439.2" x2="224" y2="439.2" stroke="#363636" stroke-width="2"/>
<line x1="216" y1="381.5" x2="224" y2="381.5" stroke="#8c8c8c" stroke-width="3.6" stroke-linecap="butt"/>
<line x1="216" y1="381.5" x2="224" y2="381.5" stroke="#363636" stroke-width="2"/>
<line x1="216" y1="323.8" x2="224" y2="323.8" stroke="#8c8c8c" stroke-width="3.6" stroke-linecap="butt"/>
<line x1="216" y1="323.8" x2="224" y2="323.8" stroke="#363636" stroke-width="2"/>
<line x1="227.5" y1="524" x2="227.5" y2="515.5" stroke="#8c8c8c" stroke-width="3.6" stroke-linecap="butt"/>
<line x1="227.5" y1="524" x2="227.5" y2="515.5" stroke="#363636" stroke-width="2"/>
<line x1="255.64" y1="524" x2="255.64" y2="515.5" stroke="#8c8c8c" stroke-width="3.6" stroke-linecap="butt"/>
<line x1="255.64" y1="524" x2="255.64" y2="515.5" stroke="#363636" stroke-width="2"/>
<line x1="283.78" y1="524" x2="283.78" y2="515.5" stroke="#8c8c8c" stroke-width="3.6" stroke-linecap="butt"/>
<line x1="283.78" y1="524" x2="283.78" y2="515.5" stroke="#363636" stroke-width="2"/>
<line x1="311.92" y1="524" x2="311.92" y2="515.5" stroke="#8c8c8c" stroke-width="3.6" stroke-linecap="butt"/>
<line x1="311.92" y1="524" x2="311.92" y2="515.5" stroke="#363636" stroke-width="2"/>
<line x1="340.06" y1="524" x2="340.06" y2="515.5" stroke="#8c8c8c" stroke-width="3.6" stroke-linecap="butt"/>
<line x1="340.06" y1="524" x2="340.06" y2="515.5" stroke="#363636" stroke-width="2"/>
<line x1="368.2" y1="524" x2="368.2" y2="515.5" stroke="#8c8c8c" stroke-width="3.6" stroke-linecap="butt"/>
<line x1="368.2" y1="524" x2="368.2" y2="515.5" stroke="#363636" stroke-width="2"/>
<line x1="396.34" y1="524" x2="396.34" y2="515.5" stroke="#8c8c8c" stroke-width="3.6" stroke-linecap="butt"/>
<line x1="396.34" y1="524" x2="396.34" y2="515.5" stroke="#363636" stroke-width="2"/>
<line x1="424.48" y1="524" x2="424.48" y2="515.5" stroke="#8c8c8c" stroke-width="3.6" stroke-linecap="butt"/>
<line x1="424.48" y1="524" x2="424.48" y2="515.5" stroke="#363636" stroke-width="2"/>
<line x1="452.62" y1="524" x2="452.62" y2="515.5" stroke="#8c8c8c" stroke-width="3.6" stroke-linecap="butt"/>
<line x1="452.62" y1="524" x2="452.62" y2="515.5" stroke="#363636" stroke-width="2"/>
<line x1="480.76" y1="524" x2="480.76" y2="515.5" stroke="#8c8c8c" stroke-width="3.6" stroke-linecap="butt"/>
<line x1="480.76" y1="524" x2="480.76" y2="515.5" stroke="#363636" stroke-width="2"/>
<circle cx="227.5" cy="467.18" r="4.6" fill="#d8342c" stroke="#f5c4c4" stroke-width="0.6"/>
<circle cx="255.64" cy="457.38" r="4.6" fill="#d8342c" stroke="#f5c4c4" stroke-width="0.6"/>
<circle cx="283.78" cy="452.18" r="4.6" fill="#d8342c" stroke="#f5c4c4" stroke-width="0.6"/>
<circle cx="311.92" cy="439.49" r="4.6" fill="#d8342c" stroke="#f5c4c4" stroke-width="0.6"/>
<circle cx="340.06" cy="421.89" r="4.6" fill="#d8342c" stroke="#f5c4c4" stroke-width="0.6"/>
<circle cx="368.2" cy="407.46" r="4.6" fill="#d8342c" stroke="#f5c4c4" stroke-width="0.6"/>
<circle cx="396.34" cy="399.39" r="4.6" fill="#d8342c" stroke="#f5c4c4" stroke-width="0.6"/>
<circle cx="424.48" cy="389.29" r="4.6" fill="#d8342c" stroke="#f5c4c4" stroke-width="0.6"/>
<circle cx="452.62" cy="376.02" r="4.6" fill="#d8342c" stroke="#f5c4c4" stroke-width="0.6"/>
<circle cx="480.76" cy="369.38" r="4.6" fill="#d8342c" stroke="#f5c4c4" stroke-width="0.6"/>
<polygon points="227.5,490.48 223.25,498.28 231.75,498.28" fill="#fbbd2a" stroke="#fde7b0" stroke-width="0.6"/>
<polygon points="255.64,483.48 251.39,491.28 259.89,491.28" fill="#fbbd2a" stroke="#fde7b0" stroke-width="0.6"/>
<polygon points="283.78,477.48 279.53,485.28 288.03,485.28" fill="#fbbd2a" stroke="#fde7b0" stroke-width="0.6"/>
<polygon points="311.92,472.68 307.67,480.48 316.17,480.48" fill="#fbbd2a" stroke="#fde7b0" stroke-width="0.6"/>
<polygon points="340.06,466.98 335.81,474.78 344.31,474.78" fill="#fbbd2a" stroke="#fde7b0" stroke-width="0.6"/>
<polygon points="368.2,461.18 363.95,468.98 372.45,468.98" fill="#fbbd2a" stroke="#fde7b0" stroke-width="0.6"/>
<polygon points="396.34,455.58 392.09,463.38 400.59,463.38" fill="#fbbd2a" stroke="#fde7b0" stroke-width="0.6"/>
<polygon points="424.48,449.68 420.23,457.48 428.73,457.48" fill="#fbbd2a" stroke="#fde7b0" stroke-width="0.6"/>
<polygon points="452.62,443.98 448.37,451.78 456.87,451.78" fill="#fbbd2a" stroke="#fde7b0" stroke-width="0.6"/>
<polygon points="480.76,439.88 476.51,447.68 485.01,447.68" fill="#fbbd2a" stroke="#fde7b0" stroke-width="0.6"/>
<rect x="223" y="508.2" width="9" height="9" fill="#4472c0"/>
<rect x="251.14" y="506.3" width="9" height="9" fill="#4472c0"/>
<rect x="279.28" y="503.8" width="9" height="9" fill="#4472c0"/>
<rect x="307.42" y="502.1" width="9" height="9" fill="#4472c0"/>
<rect x="335.56" y="500.2" width="9" height="9" fill="#4472c0"/>
<rect x="363.7" y="497.7" width="9" height="9" fill="#4472c0"/>
<rect x="391.84" y="495.1" width="9" height="9" fill="#4472c0"/>
<rect x="419.98" y="493.8" width="9" height="9" fill="#4472c0"/>
<rect x="448.12" y="492.5" width="9" height="9" fill="#4472c0"/>
<rect x="476.26" y="490" width="9" height="9" fill="#4472c0"/>
<line x1="233.7" y1="324.2" x2="269.8" y2="324.2" stroke="#f0c0c0" stroke-width="4.2" stroke-linecap="butt"/>
<line x1="233.7" y1="324.2" x2="269.8" y2="324.2" stroke="#d8342c" stroke-width="2.6"/>
<line x1="233.7" y1="348" x2="269.8" y2="348" stroke="#fde8b0" stroke-width="4.2" stroke-linecap="butt"/>
<line x1="233.7" y1="348" x2="269.8" y2="348" stroke="#fbbd2a" stroke-width="2.6"/>
<line x1="233.7" y1="371.3" x2="269.8" y2="371.3" stroke="#c8d6ee" stroke-width="4.2" stroke-linecap="butt"/>
<line x1="233.7" y1="371.3" x2="269.8" y2="371.3" stroke="#4472c0" stroke-width="2.6"/>
<circle cx="251.4" cy="324.2" r="5.4" fill="#d8342c"/>
<polygon points="251.4,340.83 245.15,352.33 257.65,352.33" fill="#fbbd2a" stroke="#fde7b0" stroke-width="0.6"/>
<rect x="245.6" y="365.5" width="11.6" height="11.6" fill="#4472c0"/>
<g font-family="Liberation Sans, sans-serif" fill="#282828" stroke="#f2f2f2" stroke-width="1.7" paint-order="stroke" stroke-linejoin="round" opacity="0.999" style="will-change:transform">
<text x="0.3" y="14" font-size="17" text-anchor="start" font-weight="bold">A</text>
<text x="352.2" y="12.8" font-size="17" text-anchor="start" font-weight="bold">B</text>
<text x="177.6" y="300.5" font-size="17" text-anchor="start" font-weight="bold">C</text>
<text x="48.2" y="232" font-size="16" text-anchor="end" font-weight="normal">0.0</text>
<text x="48.2" y="191.7" font-size="16" text-anchor="end" font-weight="normal">0.2</text>
<text x="48.2" y="151.4" font-size="16" text-anchor="end" font-weight="normal">0.4</text>
<text x="48.2" y="111.1" font-size="16" text-anchor="end" font-weight="normal">0.6</text>
<text x="48.2" y="70.8" font-size="16" text-anchor="end" font-weight="normal">0.8</text>
<path d="M763 0L583 0L583 1147Q518 1085 412 1023Q306 961 222 930L222 1104Q373 1175 486 1276Q599 1377 646 1472L763 1472Z" transform="translate(25.96 30.5) scale(0.00781 -0.00781)" stroke-width="217.6"/>
<text x="34.86" y="30.5" font-size="16" text-anchor="start" font-weight="normal">.</text>
<text x="39.3" y="30.5" font-size="16" text-anchor="start" font-weight="normal">0</text>
<text x="65.4" y="253" font-size="16" text-anchor="middle" font-weight="normal">0</text>
<text x="122.56" y="253" font-size="16" text-anchor="middle" font-weight="normal">200</text>
<text x="179.72" y="253" font-size="16" text-anchor="middle" font-weight="normal">400</text>
<text x="236.88" y="253" font-size="16" text-anchor="middle" font-weight="normal">600</text>
<text x="294.04" y="253" font-size="16" text-anchor="middle" font-weight="normal">800</text>
<text x="191.5" y="272.2" font-size="18" text-anchor="middle" font-weight="normal">Appearances in ranking</text>
<text x="18.3" y="125.6" font-size="17.5" text-anchor="middle" font-weight="normal" transform="rotate(-90 18.3 125.6)">Survival Rate</text>
<text x="300" y="37" font-size="16" text-anchor="start" font-weight="normal">all</text>
<path d="M763 0L583 0L583 1147Q518 1085 412 1023Q306 961 222 930L222 1104Q373 1175 486 1276Q599 1377 646 1472L763 1472Z" transform="translate(377.21 234.4) scale(0.00781 -0.00781)" stroke-width="217.6"/>
<text x="386.1" y="234.4" font-size="16" text-anchor="start" font-weight="normal">0</text>
<text x="395.3" y="222.3" font-size="11" text-anchor="start" font-weight="normal">0</text>
<path d="M763 0L583 0L583 1147Q518 1085 412 1023Q306 961 222 930L222 1104Q373 1175 486 1276Q599 1377 646 1472L763 1472Z" transform="translate(377.21 175.63) scale(0.00781 -0.00781)" stroke-width="217.6"/>
<text x="386.1" y="175.63" font-size="16" text-anchor="start" font-weight="normal">0</text>
<path d="M763 0L583 0L583 1147Q518 1085 412 1023Q306 961 222 930L222 1104Q373 1175 486 1276Q599 1377 646 1472L763 1472Z" transform="translate(395.3 163.53) scale(0.00537 -0.00537)" stroke-width="316.51"/>
<path d="M763 0L583 0L583 1147Q518 1085 412 1023Q306 961 222 930L222 1104Q373 1175 486 1276Q599 1377 646 1472L763 1472Z" transform="translate(377.21 116.86) scale(0.00781 -0.00781)" stroke-width="217.6"/>
<text x="386.1" y="116.86" font-size="16" text-anchor="start" font-weight="normal">0</text>
<text x="395.3" y="104.76" font-size="11" text-anchor="start" font-weight="normal">2</text>
<path d="M763 0L583 0L583 1147Q518 1085 412 1023Q306 961 222 930L222 1104Q373 1175 486 1276Q599 1377 646 1472L763 1472Z" transform="translate(377.21 58.09) scale(0.00781 -0.00781)" stroke-width="217.6"/>
<text x="386.1" y="58.09" font-size="16" text-anchor="start" font-weight="normal">0</text>
<text x="395.3" y="45.99" font-size="11" text-anchor="start" font-weight="normal">3</text>
<text x="417.9" y="253" font-size="16" text-anchor="middle" font-weight="normal">0</text>
<text x="475.83" y="253" font-size="16" text-anchor="middle" font-weight="normal">200</text>
<text x="533.75" y="253" font-size="16" text-anchor="middle" font-weight="normal">400</text>
<text x="591.68" y="253" font-size="16" text-anchor="middle" font-weight="normal">600</text>
<text x="649.6" y="253" font-size="16" text-anchor="middle" font-weight="normal">800</text>
<text x="545" y="272.3" font-size="18" text-anchor="middle" font-weight="normal">Appearances in ranking</text>
<text x="371" y="126" font-size="18" text-anchor="middle" font-weight="normal" transform="rotate(-90 371 126)">Points</text>
<text x="628" y="167.5" font-size="16" text-anchor="start" font-weight="normal">top</text>
<text x="628" y="190.9" font-size="16" text-anchor="start" font-weight="normal">middle</text>
<text x="628" y="214.3" font-size="16" text-anchor="start" font-weight="normal">bottom</text>
<text x="211.5" y="502.9" font-size="16" text-anchor="end" font-weight="normal">2</text>
<text x="211.5" y="445.2" font-size="16" text-anchor="end" font-weight="normal">4</text>
<text x="211.5" y="387.5" font-size="16" text-anchor="end" font-weight="normal">6</text>
<text x="211.5" y="329.8" font-size="16" text-anchor="end" font-weight="normal">8</text>
<path d="M763 0L583 0L583 1147Q518 1085 412 1023Q306 961 222 930L222 1104Q373 1175 486 1276Q599 1377 646 1472L763 1472Z" transform="translate(223.05 541) scale(0.00781 -0.00781)" stroke-width="217.6"/>
<text x="255.64" y="541" font-size="16" text-anchor="middle" font-weight="normal">2</text>
<text x="283.78" y="541" font-size="16" text-anchor="middle" font-weight="normal">3</text>
<text x="311.92" y="541" font-size="16" text-anchor="middle" font-weight="normal">4</text>
<text x="340.06" y="541" font-size="16" text-anchor="middle" font-weight="normal">5</text>
<text x="368.2" y="541" font-size="16" text-anchor="middle" font-weight="normal">6</text>
<text x="396.34" y="541" font-size="16" text-anchor="middle" font-weight="normal">7</text>
<text x="424.48" y="541" font-size="16" text-anchor="middle" font-weight="normal">8</text>
<text x="452.62" y="541" font-size="16" text-anchor="middle" font-weight="normal">9</text>
<path d="M763 0L583 0L583 1147Q518 1085 412 1023Q306 961 222 930L222 1104Q373 1175 486 1276Q599 1377 646 1472L763 1472Z" transform="translate(471.86 541) scale(0.00781 -0.00781)" stroke-width="217.6"/>
<text x="480.76" y="541" font-size="16" text-anchor="start" font-weight="normal">0</text>
<text x="354" y="561.2" font-size="18" text-anchor="middle" font-weight="normal">Appearances in ranking</text>
<text x="196" y="415.5" font-size="18" text-anchor="middle" font-weight="normal" transform="rotate(-90 196 415.5)">Points</text>
<text x="281.5" y="330.5" font-size="16" text-anchor="start" font-weight="normal">top</text>
<text x="281.5" y="353.9" font-size="16" text-anchor="start" font-weight="normal">middle</text>
<text x="281.5" y="377.3" font-size="16" text-anchor="start" font-weight="normal">bottom</text>
</g>
</svg>
</body></html>
